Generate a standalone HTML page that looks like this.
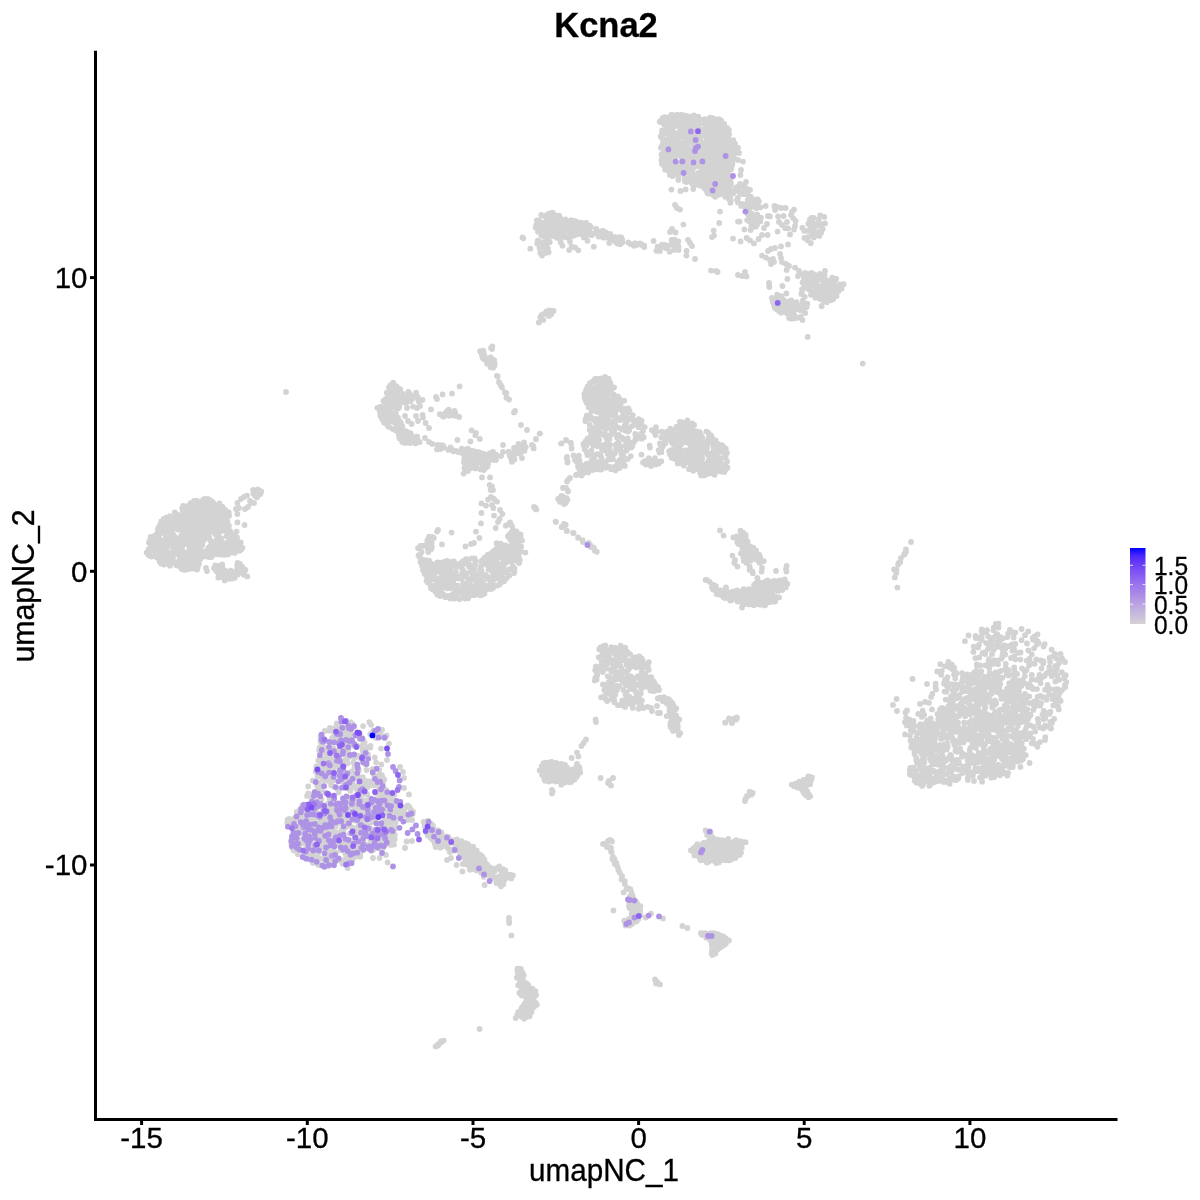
<!DOCTYPE html>
<html><head><meta charset="utf-8"><title>Kcna2</title>
<style>
html,body{margin:0;padding:0;background:#fff;}
svg{display:block;will-change:transform}
text{font-family:"Liberation Sans",Arial,Helvetica,sans-serif;fill:#000;stroke:#000;stroke-width:.3px}
.ax{font-size:29.5px}
.lg{font-size:24.5px}
</style></head><body>
<svg width="1200" height="1200" viewBox="0 0 1200 1200">
<rect width="1200" height="1200" fill="#fff"/>

<path d="M678.8,155.2h.01M700.5,148.2h.01M681.4,157.3h.01M666.5,151.7h.01M687.0,172.6h.01M662.3,136.2h.01M689.9,116.7h.01M703.2,185.4h.01M688.1,159.4h.01M682.3,118.0h.01M666.7,131.6h.01M678.3,176.3h.01M681.9,161.2h.01M681.0,162.9h.01M679.0,134.3h.01M703.9,187.7h.01M696.6,166.3h.01M672.5,130.7h.01M671.3,118.8h.01M693.2,143.4h.01M696.9,142.4h.01M702.1,176.6h.01M703.1,143.2h.01M661.4,160.4h.01M693.8,133.7h.01M662.0,138.3h.01M702.3,170.0h.01M663.4,131.9h.01M662.6,118.1h.01M694.7,126.8h.01M683.7,146.9h.01M666.8,168.1h.01M664.0,161.5h.01M663.4,144.9h.01M667.8,133.7h.01M702.7,173.4h.01M667.7,142.9h.01M697.3,161.4h.01M693.5,138.1h.01M662.1,157.0h.01M669.2,158.3h.01M675.1,147.3h.01M702.1,149.6h.01M684.4,178.1h.01M666.4,125.1h.01M699.8,174.4h.01M669.5,127.7h.01M692.0,183.6h.01M698.6,158.5h.01M677.4,121.3h.01M669.0,166.0h.01M669.8,174.9h.01M685.4,135.4h.01M700.2,128.8h.01M678.5,118.1h.01M666.1,141.0h.01M684.3,123.4h.01M703.1,162.5h.01M689.8,157.1h.01M680.2,167.9h.01M661.5,154.2h.01M691.9,180.6h.01M691.9,166.0h.01M694.5,181.7h.01M674.2,164.6h.01M699.4,178.4h.01M677.2,172.4h.01M697.7,156.2h.01M686.7,142.0h.01M684.8,158.9h.01M703.7,179.1h.01M691.5,142.5h.01M691.8,156.8h.01M680.1,130.7h.01M690.1,150.6h.01M686.3,182.1h.01M671.8,164.1h.01M699.7,162.7h.01M678.3,179.9h.01M667.1,145.7h.01M684.8,137.1h.01M664.3,150.5h.01M696.5,176.7h.01M670.7,126.2h.01M686.8,150.3h.01M672.5,176.0h.01M703.2,147.3h.01M698.2,116.7h.01M672.2,172.5h.01M678.9,115.4h.01M696.2,131.3h.01M664.5,117.1h.01M686.9,146.8h.01M687.0,162.3h.01M695.1,184.9h.01M689.5,128.4h.01M679.9,126.9h.01M690.9,126.9h.01M670.5,139.3h.01M690.1,152.3h.01M686.3,169.9h.01M699.7,120.1h.01M700.9,167.3h.01M664.0,147.3h.01M675.3,155.9h.01M698.4,172.9h.01M691.2,174.5h.01M687.5,167.0h.01M682.7,172.4h.01M697.4,139.5h.01M661.8,146.4h.01M683.3,170.8h.01M695.2,118.4h.01M664.5,124.7h.01M681.8,167.4h.01M701.7,120.0h.01M668.2,152.8h.01M671.3,167.8h.01M687.4,152.5h.01M672.3,142.0h.01M696.9,180.6h.01M702.5,152.6h.01M684.4,128.6h.01M682.7,151.0h.01M685.8,115.7h.01M689.8,118.5h.01M682.8,144.4h.01M702.0,182.3h.01M670.4,148.8h.01M679.9,137.2h.01M666.8,159.6h.01M700.6,123.2h.01M693.8,115.3h.01M689.6,137.6h.01M674.3,159.7h.01M675.3,144.4h.01M682.3,125.5h.01M699.5,137.1h.01M698.8,123.6h.01M669.0,167.7h.01M669.9,120.8h.01M696.3,145.0h.01M694.3,123.0h.01M676.5,164.6h.01M689.4,181.4h.01M702.5,122.2h.01M681.3,170.0h.01M681.1,164.6h.01M666.7,118.8h.01M666.5,128.8h.01M679.3,170.5h.01M673.0,148.3h.01M681.7,145.6h.01M690.2,176.4h.01M666.3,147.4h.01M681.6,114.7h.01M687.0,143.7h.01M692.2,171.5h.01M690.0,170.7h.01M688.3,156.0h.01M682.5,142.6h.01M669.8,143.5h.01M675.3,120.9h.01M702.5,155.9h.01M665.4,148.7h.01M686.1,118.0h.01M701.5,144.9h.01M674.8,134.9h.01M671.6,114.6h.01M669.3,116.8h.01M665.2,169.7h.01M692.4,117.3h.01M677.8,149.1h.01M702.8,131.7h.01M691.2,148.4h.01M685.8,122.2h.01M682.3,122.8h.01M678.4,163.3h.01M684.8,144.8h.01M693.8,153.1h.01M691.8,131.3h.01M694.1,160.1h.01M685.2,160.7h.01M692.7,127.7h.01M670.5,145.2h.01M662.0,163.9h.01M683.3,160.6h.01M675.2,149.2h.01M667.7,139.2h.01M692.3,176.0h.01M661.4,122.5h.01M693.4,129.5h.01M677.5,132.8h.01M695.3,141.0h.01M673.0,154.4h.01M677.7,141.1h.01M661.6,119.8h.01M684.0,149.7h.01M689.5,135.8h.01M693.7,119.3h.01M667.8,162.9h.01M671.0,124.2h.01M674.5,167.6h.01M700.3,183.5h.01M700.0,146.2h.01M694.9,136.3h.01M701.0,180.2h.01M669.4,140.5h.01M674.8,140.6h.01M676.2,142.4h.01M667.0,155.5h.01M698.5,134.5h.01M683.0,155.8h.01M687.9,131.9h.01M668.1,170.5h.01M676.1,138.7h.01M680.7,153.6h.01M696.0,163.2h.01M702.1,161.2h.01M677.3,124.5h.01M675.3,126.1h.01M660.7,136.5h.01M660.9,147.7h.01M684.9,181.3h.01M659.7,121.7h.01M685.4,130.3h.01M695.6,149.3h.01M700.1,139.1h.01M675.1,172.9h.01M690.8,158.7h.01M672.8,132.9h.01M698.0,152.0h.01M670.3,153.4h.01M696.9,174.8h.01M661.8,133.7h.01M691.0,120.8h.01M680.1,148.5h.01M697.4,136.2h.01M694.3,144.6h.01M696.0,129.1h.01M683.0,152.7h.01M672.3,136.7h.01M662.9,142.9h.01M675.3,153.8h.01M691.6,138.1h.01M696.0,120.5h.01M664.5,120.6h.01M689.2,166.3h.01M696.5,157.7h.01M662.1,130.5h.01M665.2,122.8h.01M676.7,119.0h.01M693.3,174.7h.01M677.0,114.7h.01M673.7,162.0h.01M699.5,154.4h.01M674.2,150.8h.01M664.5,166.7h.01M686.8,128.3h.01M684.5,165.5h.01M683.8,133.3h.01M669.1,156.3h.01M696.2,127.4h.01M703.4,183.5h.01M688.9,168.5h.01M675.6,157.6h.01M664.6,142.3h.01M684.2,126.5h.01M681.9,133.2h.01M687.5,116.4h.01M688.9,124.4h.01M702.1,158.2h.01M679.6,144.2h.01M686.7,164.9h.01M692.9,169.5h.01M676.8,145.9h.01M672.8,117.7h.01M692.6,136.3h.01M682.2,131.4h.01M668.9,118.7h.01M699.9,185.5h.01M688.6,178.1h.01M663.7,153.6h.01M669.2,135.9h.01M672.2,150.7h.01M719.1,133.4h.01M713.5,191.7h.01M730.8,145.4h.01M719.1,130.6h.01M710.5,168.1h.01M710.1,188.2h.01M705.6,125.2h.01M727.2,142.1h.01M726.8,127.6h.01M718.2,123.0h.01M711.1,141.6h.01M726.7,132.6h.01M709.8,135.8h.01M725.3,180.9h.01M715.9,170.5h.01M732.3,164.6h.01M712.9,168.7h.01M718.1,159.6h.01M721.0,120.3h.01M723.2,139.8h.01M712.0,182.0h.01M706.8,139.8h.01M728.2,136.6h.01M712.9,161.2h.01M718.8,177.7h.01M716.3,192.2h.01M721.8,169.1h.01M729.1,158.7h.01M720.2,185.4h.01M725.9,159.0h.01M728.9,130.0h.01M723.5,135.8h.01M718.1,179.5h.01M729.2,181.0h.01M711.6,156.4h.01M711.1,163.8h.01M723.1,174.8h.01M722.3,187.7h.01M709.8,129.0h.01M704.6,157.0h.01M717.9,152.6h.01M706.3,190.5h.01M722.2,160.8h.01M708.7,141.9h.01M705.4,142.2h.01M723.9,159.4h.01M706.8,183.4h.01M709.5,137.3h.01M709.1,172.8h.01M706.0,150.0h.01M715.7,134.2h.01M705.3,136.2h.01M716.6,140.9h.01M728.4,176.4h.01M711.4,137.2h.01M721.7,136.3h.01M718.8,192.5h.01M715.6,144.0h.01M715.0,173.1h.01M732.4,154.3h.01M716.6,185.2h.01M716.2,180.2h.01M710.9,144.9h.01M709.9,161.3h.01M709.2,133.2h.01M710.9,154.7h.01M713.9,153.0h.01M716.3,122.5h.01M726.1,146.1h.01M712.8,118.1h.01M726.9,138.5h.01M715.6,129.1h.01M734.0,145.9h.01M714.3,147.9h.01M706.7,188.4h.01M714.4,179.3h.01M716.6,136.0h.01M705.3,128.9h.01M714.0,151.1h.01M721.4,127.7h.01M727.2,170.8h.01M713.0,174.6h.01M717.0,148.1h.01M713.3,144.7h.01M710.9,119.9h.01M704.8,167.9h.01M722.1,182.4h.01M725.5,191.4h.01M710.9,172.7h.01M724.2,123.9h.01M705.9,147.8h.01M714.5,157.1h.01M713.0,129.5h.01M716.9,155.3h.01M709.3,170.7h.01M711.7,124.2h.01M708.8,164.0h.01M726.4,161.6h.01M716.5,146.3h.01M722.7,154.8h.01M714.4,137.2h.01M704.8,144.9h.01M732.5,162.6h.01M712.4,171.0h.01M715.6,163.5h.01M724.1,167.1h.01M717.2,150.4h.01M712.8,184.1h.01M732.2,147.7h.01M708.3,157.9h.01M725.8,135.7h.01M704.0,160.9h.01M719.8,169.5h.01M721.5,167.4h.01M721.9,184.3h.01M735.0,143.7h.01M715.1,188.7h.01M726.3,172.5h.01M709.1,167.2h.01M719.7,162.5h.01M728.0,160.1h.01M714.4,131.1h.01M706.0,122.2h.01M707.3,174.0h.01M707.6,153.4h.01M728.7,155.7h.01M729.5,148.5h.01M731.0,184.0h.01M722.2,150.8h.01M726.6,167.3h.01M730.6,181.8h.01M708.0,147.3h.01M709.9,117.7h.01M722.7,193.2h.01M726.0,150.7h.01M724.2,148.9h.01M705.6,174.7h.01M707.8,120.1h.01M714.6,118.8h.01M721.4,155.9h.01M723.8,178.9h.01M735.4,148.3h.01M709.6,125.3h.01M719.6,126.4h.01M732.6,141.8h.01M706.5,131.5h.01M719.5,150.3h.01M705.8,161.4h.01M718.2,184.5h.01M727.2,130.9h.01M707.8,122.7h.01M715.5,177.9h.01M704.3,133.7h.01M716.8,182.0h.01M730.5,179.1h.01M725.0,182.6h.01M715.7,168.5h.01M715.3,139.3h.01M707.0,143.9h.01M707.4,128.2h.01M716.9,142.8h.01M721.2,194.1h.01M717.8,195.0h.01M711.0,149.8h.01M724.6,133.9h.01M723.7,188.9h.01M731.4,167.8h.01M707.7,184.8h.01M726.1,153.5h.01M723.2,163.2h.01M724.1,153.0h.01M723.0,165.0h.01M716.9,187.2h.01M719.7,135.7h.01M730.9,169.4h.01M721.6,190.3h.01M715.7,124.8h.01M714.9,142.3h.01M723.3,173.2h.01M709.8,127.0h.01M708.1,126.0h.01M715.4,132.6h.01M713.1,187.6h.01M727.8,165.5h.01M717.4,139.5h.01M717.2,127.4h.01M717.5,144.4h.01M730.3,185.8h.01M706.8,146.2h.01M716.0,175.5h.01M725.4,144.6h.01M719.0,146.0h.01M718.9,142.3h.01M725.5,165.9h.01M706.1,154.2h.01M710.7,146.7h.01M723.9,177.0h.01M727.4,179.8h.01M704.5,186.6h.01M707.6,180.8h.01M720.4,140.5h.01M717.2,121.0h.01M717.0,166.4h.01M708.9,183.2h.01M727.5,174.6h.01M709.0,159.8h.01M713.6,195.2h.01M724.6,185.6h.01M706.5,137.8h.01M715.8,151.5h.01M705.6,184.6h.01M706.0,159.6h.01M721.5,149.1h.01M704.3,149.7h.01M715.7,165.3h.01M720.5,178.0h.01M729.5,151.2h.01M731.5,149.3h.01M730.6,143.3h.01M729.2,168.9h.01M705.8,178.8h.01M728.0,147.4h.01M719.1,119.2h.01M719.8,172.7h.01M707.4,177.0h.01M709.2,145.1h.01M713.8,185.6h.01M729.1,134.4h.01M723.5,126.4h.01M728.5,164.0h.01M708.2,156.1h.01M712.7,139.8h.01M712.9,158.0h.01M734.2,157.8h.01M722.1,145.0h.01M711.4,193.9h.01M707.5,193.2h.01M704.9,163.1h.01M720.7,122.9h.01M720.9,131.6h.01M704.8,119.2h.01M720.6,163.8h.01M728.2,182.4h.01M704.0,122.1h.01M720.8,143.9h.01M711.8,134.3h.01M719.2,183.2h.01M734.4,153.5h.01M715.1,120.6h.01M718.7,165.7h.01M709.5,176.5h.01M723.8,146.7h.01M719.1,167.4h.01M722.7,129.4h.01M720.5,147.4h.01M712.6,163.3h.01M706.9,157.1h.01M712.1,190.1h.01M719.7,155.9h.01M730.1,141.3h.01M723.5,190.8h.01M706.1,170.9h.01M729.1,187.7h.01M724.5,156.6h.01M733.2,140.2h.01M711.7,143.3h.01M715.4,159.5h.01M717.9,172.4h.01M728.4,161.8h.01M724.5,193.0h.01M717.8,125.3h.01M708.1,151.2h.01M722.3,177.2h.01M725.0,171.0h.01M717.9,169.8h.01M711.2,179.3h.01M710.3,190.9h.01M729.0,143.0h.01M712.0,131.1h.01M726.6,134.2h.01M711.3,175.1h.01M715.3,196.8h.01M714.3,154.7h.01M713.9,164.8h.01M712.6,125.8h.01M726.2,157.3h.01M729.5,167.1h.01M727.8,153.6h.01M716.7,161.6h.01M731.6,158.7h.01M710.9,153.0h.01M721.9,124.8h.01M724.4,137.9h.01M730.1,175.5h.01M705.1,181.5h.01M671.4,189.6h.01M680.4,191.0h.01M685.6,189.4h.01M693.2,189.0h.01M708.4,193.6h.01M675.0,205.0h.01M677.0,208.0h.01M680.0,209.6h.01M683.4,224.6h.01M672.0,229.0h.01M670.0,232.0h.01M675.6,232.4h.01M720.0,211.6h.01M719.2,223.0h.01M713.6,230.6h.01M712.0,237.0h.01M714.0,235.6h.01M738.0,221.6h.01M739.6,221.6h.01M744.4,229.4h.01M750.6,230.0h.01M733.0,238.6h.01M740.6,241.4h.01M746.6,238.0h.01M750.0,240.4h.01M754.0,243.4h.01M758.6,239.0h.01M762.0,235.0h.01M767.6,235.0h.01M765.6,206.0h.01M768.0,216.0h.01M770.0,216.4h.01M767.0,224.0h.01M764.0,228.0h.01M774.4,206.0h.01M777.0,207.0h.01M781.0,208.0h.01M785.6,208.0h.01M775.0,210.0h.01M778.0,216.4h.01M783.6,216.0h.01M779.0,222.0h.01M782.0,225.0h.01M785.0,228.0h.01M788.0,228.4h.01M787.0,222.0h.01M792.0,212.0h.01M794.0,209.6h.01M791.0,215.0h.01M793.0,218.0h.01M795.6,221.0h.01M795.0,226.0h.01M794.0,229.6h.01M790.0,234.4h.01M777.6,231.6h.01M688.0,240.0h.01M690.0,243.0h.01M692.0,246.0h.01M686.6,251.0h.01M686.4,255.6h.01M695.0,259.0h.01M653.6,241.0h.01M711.0,270.6h.01M716.0,271.0h.01M717.6,272.0h.01M738.0,275.0h.01M742.0,276.0h.01M745.0,272.0h.01M746.6,276.4h.01M788.0,244.4h.01M781.0,246.4h.01M775.0,248.0h.01M771.0,249.0h.01M768.0,251.0h.01M762.0,255.6h.01M766.0,257.6h.01M770.0,260.0h.01M773.0,259.0h.01M774.0,262.0h.01M771.0,264.0h.01M780.0,254.0h.01M781.0,258.0h.01M782.0,262.0h.01M786.0,264.0h.01M789.0,266.0h.01M786.6,270.0h.01M795.0,267.6h.01M799.0,271.0h.01M800.0,274.0h.01M798.0,276.0h.01M805.0,273.0h.01M806.0,275.0h.01M825.0,271.0h.01M821.6,306.0h.01M769.0,283.0h.01M769.4,287.0h.01M782.4,286.0h.01M787.4,279.0h.01M786.4,293.6h.01M802.0,294.0h.01M803.0,289.0h.01M738.0,148.0h.01M739.0,153.0h.01M738.0,160.0h.01M743.0,161.6h.01M741.0,170.0h.01M740.4,175.0h.01M746.0,182.0h.01M740.0,184.0h.01M745.0,189.0h.01M750.0,190.0h.01M728.5,189.2h.01M735.5,190.7h.01M747.8,200.0h.01M745.0,194.0h.01M732.4,191.3h.01M758.8,201.5h.01M755.9,202.2h.01M747.5,194.0h.01M751.0,196.8h.01M725.3,196.8h.01M738.0,197.8h.01M735.9,187.9h.01M746.1,207.8h.01M730.0,197.0h.01M742.5,203.9h.01M745.0,190.2h.01M730.4,202.8h.01M741.2,205.9h.01M747.2,203.4h.01M752.7,202.8h.01M756.0,199.6h.01M727.4,191.5h.01M730.8,200.6h.01M728.8,198.8h.01M742.8,194.1h.01M741.5,185.0h.01M747.0,189.0h.01M757.6,199.3h.01M738.0,202.4h.01M734.1,191.6h.01M752.3,204.4h.01M750.3,208.0h.01M730.2,194.2h.01M756.3,203.9h.01M751.9,206.5h.01M737.1,199.7h.01M760.4,207.3h.01M728.6,194.5h.01M745.0,187.4h.01M747.5,191.3h.01M733.2,193.5h.01M756.4,208.3h.01M739.4,192.3h.01M739.1,188.8h.01M751.5,198.9h.01M744.4,206.3h.01M737.5,186.9h.01M746.5,205.4h.01M752.2,214.0h.01M757.1,224.4h.01M760.3,221.4h.01M755.7,226.7h.01M751.3,225.2h.01M756.5,220.0h.01M747.2,220.1h.01M751.0,222.2h.01M754.6,220.7h.01M747.9,214.2h.01M751.4,219.7h.01M754.3,218.8h.01M757.2,214.6h.01M749.2,219.2h.01M753.7,217.0h.01M752.5,227.1h.01M761.0,217.7h.01M748.6,212.6h.01M749.1,221.3h.01M808.2,230.7h.01M809.9,219.4h.01M810.4,226.8h.01M819.4,235.9h.01M813.6,217.9h.01M822.7,229.1h.01M818.1,225.2h.01M816.9,232.6h.01M821.2,232.4h.01M812.2,233.6h.01M810.8,224.8h.01M808.3,223.7h.01M804.5,238.0h.01M825.0,223.4h.01M811.5,217.9h.01M824.3,216.9h.01M808.4,236.9h.01M807.6,240.4h.01M810.8,228.4h.01M812.6,222.6h.01M820.2,215.3h.01M802.4,227.8h.01M817.0,223.9h.01M810.8,243.2h.01M804.3,230.9h.01M813.8,237.4h.01M818.7,219.1h.01M815.3,226.6h.01M814.9,235.5h.01M819.2,231.3h.01M813.0,228.2h.01M821.5,224.2h.01M676.0,249.6h.01M656.4,250.8h.01M674.0,246.7h.01M671.3,244.2h.01M671.6,239.9h.01M667.9,246.5h.01M675.7,243.7h.01M658.1,250.0h.01M673.7,249.9h.01M678.4,241.3h.01M660.0,251.0h.01M677.7,245.0h.01M660.3,247.5h.01M665.4,244.8h.01M665.8,248.0h.01M672.5,243.0h.01M678.5,250.1h.01M657.6,246.7h.01M674.6,239.6h.01M661.9,244.7h.01M674.6,242.1h.01M669.6,251.8h.01M675.8,247.9h.01M678.5,246.7h.01M633.9,245.8h.01M635.4,243.4h.01M636.6,244.9h.01M640.8,243.9h.01M642.6,245.0h.01M644.3,245.7h.01M830.6,286.5h.01M824.6,290.1h.01M824.3,297.5h.01M833.9,291.3h.01M827.4,300.2h.01M804.1,286.9h.01M809.0,289.6h.01M822.7,294.9h.01M833.1,299.3h.01M835.0,280.8h.01M841.6,288.6h.01M816.3,275.6h.01M807.3,286.0h.01M813.6,293.0h.01M806.7,282.6h.01M819.4,286.9h.01M820.5,290.6h.01M811.7,279.9h.01M821.5,292.1h.01M827.7,283.1h.01M810.9,294.8h.01M813.2,275.5h.01M832.4,286.9h.01M833.7,295.9h.01M823.6,280.7h.01M824.3,292.7h.01M815.8,292.0h.01M822.7,299.7h.01M830.6,292.8h.01M831.4,283.6h.01M836.0,286.5h.01M810.7,286.2h.01M830.9,289.2h.01M818.9,279.9h.01M819.6,293.7h.01M827.8,294.8h.01M830.9,300.3h.01M830.3,291.0h.01M828.0,291.9h.01M838.6,291.1h.01M840.0,284.5h.01M802.5,282.4h.01M815.0,284.5h.01M819.9,296.9h.01M810.3,288.6h.01M811.6,272.8h.01M814.4,287.3h.01M816.8,281.1h.01M836.6,296.0h.01M804.3,276.4h.01M843.6,284.2h.01M832.4,288.5h.01M824.3,300.7h.01M832.6,293.9h.01M816.0,296.0h.01M826.5,285.1h.01M817.6,278.2h.01M808.9,273.9h.01M822.9,285.3h.01M815.3,297.7h.01M824.6,275.5h.01M831.8,279.5h.01M831.1,297.9h.01M804.8,281.4h.01M812.3,284.4h.01M813.9,289.3h.01M819.7,273.9h.01M827.7,287.0h.01M807.8,276.5h.01M808.1,287.4h.01M836.2,279.0h.01M834.4,286.9h.01M820.3,298.9h.01M813.5,291.3h.01M805.4,285.2h.01M838.2,286.4h.01M835.5,289.8h.01M819.3,276.8h.01M821.4,274.3h.01M807.1,274.8h.01M838.8,289.3h.01M808.8,280.9h.01M804.0,278.5h.01M813.0,273.8h.01M814.3,295.6h.01M826.7,280.3h.01M829.4,281.9h.01M828.4,290.2h.01M829.2,298.8h.01M825.2,288.2h.01M805.6,279.4h.01M813.8,278.6h.01M824.2,277.7h.01M826.8,302.2h.01M817.8,285.6h.01M818.3,275.1h.01M832.2,277.6h.01M805.1,306.1h.01M794.7,306.5h.01M776.3,303.3h.01M788.2,309.3h.01M800.6,310.6h.01M791.2,318.7h.01M788.9,301.3h.01M776.2,299.6h.01M786.9,305.3h.01M800.8,316.8h.01M791.1,302.7h.01M786.9,313.2h.01M792.3,308.4h.01M791.2,309.5h.01M789.1,318.0h.01M782.2,307.4h.01M803.0,310.4h.01M805.2,312.9h.01M779.3,303.8h.01M777.7,307.4h.01M779.3,298.3h.01M789.5,313.3h.01M792.7,315.2h.01M777.6,300.6h.01M799.7,306.1h.01M797.2,317.8h.01M775.0,307.9h.01M777.1,309.5h.01M796.6,302.2h.01M793.1,305.6h.01M796.4,305.4h.01M779.8,301.6h.01M806.7,307.1h.01M778.6,296.5h.01M807.3,303.7h.01M777.1,294.7h.01M794.6,309.6h.01M802.6,308.6h.01M796.7,309.2h.01M782.3,302.1h.01M794.5,315.3h.01M802.1,305.2h.01M772.6,301.6h.01M773.7,304.0h.01M781.2,312.7h.01M781.3,309.2h.01M794.3,318.3h.01M791.3,300.3h.01M788.2,306.7h.01M783.6,310.1h.01M790.3,314.8h.01M793.5,312.4h.01M784.9,304.0h.01M802.5,320.1h.01M784.1,302.5h.01M786.3,307.2h.01M779.1,311.2h.01M783.5,300.0h.01M771.9,298.0h.01M781.8,298.1h.01M781.1,296.1h.01M800.4,307.9h.01M774.1,305.6h.01M807.7,336.9h.01M862.7,363.6h.01M769.1,284.0h.01M769.1,286.7h.01M782.4,286.0h.01M786.3,293.3h.01M821.7,306.3h.01M802.0,289.3h.01M801.3,294.0h.01M804.7,296.7h.01M802.7,300.7h.01M587.8,228.6h.01M549.5,234.3h.01M573.7,235.6h.01M537.9,222.3h.01M576.9,222.0h.01M560.1,225.7h.01M573.1,233.2h.01M570.6,234.7h.01M564.8,234.8h.01M552.7,229.1h.01M572.3,230.3h.01M539.1,220.5h.01M568.7,225.8h.01M583.8,237.4h.01M579.7,226.4h.01M550.1,219.0h.01M608.2,234.6h.01M550.4,229.7h.01M558.0,218.6h.01M549.1,213.6h.01M591.7,235.2h.01M571.9,227.9h.01M600.9,232.9h.01M589.6,234.1h.01M540.9,224.8h.01M537.6,226.4h.01M610.2,233.9h.01M554.7,215.0h.01M549.5,223.2h.01M620.7,243.5h.01M600.2,234.6h.01M575.3,227.6h.01M553.4,221.6h.01M566.5,237.5h.01M583.4,223.2h.01M559.2,228.1h.01M552.4,212.7h.01M588.1,230.9h.01M540.4,231.5h.01M580.8,222.7h.01M554.1,217.5h.01M577.3,224.8h.01M586.4,235.4h.01M558.8,233.1h.01M557.2,237.9h.01M552.4,232.7h.01M622.1,239.5h.01M566.2,221.4h.01M549.9,215.4h.01M616.3,240.0h.01M576.4,234.5h.01M541.2,214.9h.01M618.2,243.8h.01M603.9,234.0h.01M546.9,215.0h.01M572.7,222.1h.01M586.3,225.9h.01M540.9,226.8h.01M546.5,229.7h.01M586.2,222.9h.01M582.9,234.2h.01M546.9,219.7h.01M611.6,240.0h.01M561.8,232.9h.01M535.7,227.6h.01M616.6,242.7h.01M549.6,226.6h.01M556.6,229.3h.01M606.3,232.8h.01M615.2,237.2h.01M583.2,230.6h.01M562.0,236.8h.01M542.4,233.4h.01M579.2,229.6h.01M622.4,242.3h.01M554.3,228.9h.01M613.5,237.1h.01M560.4,222.7h.01M619.4,237.2h.01M559.1,215.6h.01M549.6,221.1h.01M603.2,237.6h.01M564.8,229.1h.01M551.0,228.0h.01M604.5,231.6h.01M542.2,223.0h.01M571.1,223.7h.01M545.5,233.4h.01M587.5,233.3h.01M546.4,227.3h.01M554.2,236.3h.01M558.1,230.1h.01M565.4,219.4h.01M553.1,218.8h.01M576.2,232.2h.01M556.9,226.3h.01M574.7,220.9h.01M564.2,227.0h.01M552.9,223.2h.01M544.2,227.3h.01M538.5,231.0h.01M605.1,237.7h.01M603.0,230.8h.01M577.7,230.3h.01M620.5,240.4h.01M545.4,225.2h.01M584.7,225.5h.01M598.6,236.6h.01M551.5,226.2h.01M615.3,241.6h.01M621.2,237.5h.01M570.5,229.0h.01M590.7,227.0h.01M595.5,233.3h.01M560.6,238.4h.01M542.7,231.3h.01M612.8,238.8h.01M554.8,234.0h.01M552.5,215.6h.01M596.2,228.9h.01M589.7,225.6h.01M558.7,222.2h.01M544.5,216.3h.01M547.4,234.6h.01M617.5,238.3h.01M562.7,222.6h.01M610.0,238.3h.01M548.8,217.5h.01M592.8,233.7h.01M596.7,231.1h.01M570.9,220.2h.01M536.2,225.2h.01M602.5,234.9h.01M540.4,228.4h.01M551.4,216.9h.01M578.9,234.1h.01M550.0,231.8h.01M538.5,229.3h.01M556.5,232.3h.01M589.3,229.7h.01M575.6,223.3h.01M573.5,224.9h.01M601.0,231.3h.01M560.1,217.9h.01M568.7,236.8h.01M560.7,220.9h.01M578.0,228.3h.01M556.6,234.0h.01M566.5,224.0h.01M543.6,236.2h.01M536.8,220.3h.01M566.5,230.4h.01M568.2,222.7h.01M585.6,232.0h.01M544.7,222.6h.01M571.3,226.4h.01M561.1,231.0h.01M571.0,236.6h.01M578.7,222.6h.01M583.2,227.1h.01M555.4,223.4h.01M543.3,246.8h.01M540.4,241.9h.01M546.2,248.7h.01M541.3,235.4h.01M537.7,240.6h.01M548.7,252.3h.01M542.0,255.6h.01M549.7,242.2h.01M547.9,248.4h.01M539.5,248.1h.01M540.3,253.0h.01M547.2,238.1h.01M545.5,246.8h.01M544.7,242.0h.01M544.9,245.0h.01M546.3,241.6h.01M537.2,243.5h.01M547.9,241.1h.01M547.1,243.4h.01M545.3,250.1h.01M543.0,244.5h.01M545.1,253.1h.01M549.1,237.5h.01M522.5,237.5h.01M523.3,238.3h.01M530.3,248.7h.01M538.0,231.7h.01M562.5,245.8h.01M560.8,242.5h.01M570.0,241.7h.01M571.7,246.7h.01M575.0,247.5h.01M578.3,250.3h.01M569.2,250.0h.01M593.8,246.7h.01M587.5,240.8h.01M609.2,243.0h.01M620.0,244.2h.01M628.3,242.5h.01M630.8,244.2h.01M635.0,243.3h.01M640.0,243.3h.01M641.7,245.0h.01M644.2,247.0h.01M538.9,322.4h.01M551.3,310.8h.01M540.8,320.1h.01M546.5,311.4h.01M541.8,318.8h.01M548.7,314.0h.01M551.2,314.2h.01M540.2,317.1h.01M549.3,310.5h.01M548.9,315.9h.01M546.9,313.2h.01M541.5,315.2h.01M543.3,319.9h.01M543.3,314.2h.01M553.5,311.0h.01M548.2,312.0h.01M487.8,358.3h.01M483.6,352.4h.01M484.3,356.2h.01M493.1,367.7h.01M491.4,364.8h.01M482.4,356.3h.01M484.0,354.6h.01M490.8,357.5h.01M487.1,363.7h.01M484.1,359.3h.01M488.0,360.1h.01M494.8,363.8h.01M480.1,351.2h.01M494.2,360.2h.01M482.7,357.9h.01M494.4,365.7h.01M492.1,362.7h.01M481.8,354.8h.01M490.4,367.1h.01M489.2,363.5h.01M483.2,350.6h.01M491.0,348.0h.01M492.4,346.4h.01M492.0,349.0h.01M496.9,375.8h.01M497.6,376.5h.01M499.0,382.2h.01M500.8,385.2h.01M502.0,387.4h.01M504.8,392.4h.01M506.4,393.2h.01M506.4,397.7h.01M509.1,399.6h.01M515.0,411.0h.01M514.0,412.4h.01M521.0,425.0h.01M527.0,430.0h.01M539.6,433.6h.01M536.0,439.2h.01M532.0,445.0h.01M533.6,448.0h.01M400.2,389.2h.01M406.1,433.6h.01M406.1,403.2h.01M398.0,428.9h.01M392.1,420.7h.01M407.7,398.1h.01M410.1,435.2h.01M396.4,416.6h.01M404.9,396.7h.01M399.3,421.1h.01M383.7,407.4h.01M397.7,424.1h.01M384.1,422.6h.01M380.3,413.9h.01M388.2,398.6h.01M405.0,398.3h.01M400.5,424.9h.01M381.3,408.5h.01M385.4,402.5h.01M394.5,414.5h.01M395.5,399.8h.01M390.8,399.9h.01M383.5,400.9h.01M397.1,392.1h.01M385.8,422.9h.01M390.1,404.6h.01M395.8,394.2h.01M392.2,403.0h.01M383.5,410.1h.01M398.2,400.9h.01M395.5,418.2h.01M392.2,406.7h.01M400.7,422.3h.01M393.0,392.2h.01M403.7,401.8h.01M391.9,387.3h.01M400.5,434.0h.01M396.9,390.5h.01M386.8,392.7h.01M388.6,415.3h.01M389.0,411.6h.01M396.3,425.4h.01M394.7,387.8h.01M385.0,419.5h.01M398.0,398.8h.01M397.3,426.9h.01M391.9,413.1h.01M389.8,413.5h.01M381.4,411.1h.01M399.5,438.4h.01M414.4,437.3h.01M393.0,384.9h.01M417.6,439.3h.01M392.4,414.9h.01M392.4,401.0h.01M408.2,432.3h.01M398.8,435.5h.01M386.8,400.2h.01M388.2,395.4h.01M408.7,440.1h.01M380.4,415.7h.01M400.4,428.1h.01M393.4,422.0h.01M401.0,396.9h.01M377.4,407.8h.01M395.0,385.6h.01M407.1,442.7h.01M405.4,436.8h.01M400.2,431.3h.01M407.7,437.1h.01M398.9,425.7h.01M379.8,410.8h.01M382.1,417.4h.01M389.1,426.9h.01M386.5,410.9h.01M382.1,419.1h.01M404.5,432.8h.01M390.1,391.9h.01M411.8,440.7h.01M399.5,395.9h.01M393.2,382.6h.01M389.0,387.4h.01M401.1,402.6h.01M383.7,412.4h.01M387.7,425.8h.01M402.1,425.8h.01M395.8,408.2h.01M385.7,398.8h.01M405.7,400.4h.01M411.9,438.7h.01M410.8,433.3h.01M393.8,407.0h.01M399.3,406.9h.01M404.7,442.9h.01M417.2,436.6h.01M410.1,443.1h.01M389.4,421.2h.01M392.9,429.1h.01M398.1,430.8h.01M390.5,385.1h.01M395.9,421.0h.01M396.7,403.0h.01M419.7,442.1h.01M402.7,393.9h.01M380.6,406.6h.01M387.6,404.1h.01M395.9,413.3h.01M392.5,417.5h.01M410.6,401.0h.01M383.1,415.3h.01M390.0,419.3h.01M385.6,408.9h.01M403.1,436.4h.01M389.6,410.1h.01M398.0,417.7h.01M402.3,427.7h.01M392.1,398.7h.01M396.6,386.4h.01M415.5,443.4h.01M392.2,390.6h.01M385.6,405.7h.01M397.9,408.4h.01M395.9,430.5h.01M388.0,413.4h.01M387.4,408.4h.01M393.0,397.1h.01M405.6,431.1h.01M404.6,441.2h.01M402.2,441.9h.01M408.7,396.4h.01M409.5,393.7h.01M418.6,401.2h.01M415.0,395.4h.01M417.7,396.9h.01M422.5,400.0h.01M416.1,392.6h.01M411.8,397.1h.01M408.3,391.8h.01M413.1,398.2h.01M436.0,397.0h.01M437.0,399.0h.01M442.6,394.4h.01M452.0,393.6h.01M459.6,386.4h.01M413.0,406.6h.01M417.0,408.0h.01M420.0,406.0h.01M407.0,408.0h.01M405.0,416.0h.01M408.0,421.0h.01M411.6,424.0h.01M416.0,416.0h.01M418.0,421.0h.01M422.6,415.0h.01M423.0,417.6h.01M431.0,409.4h.01M425.6,423.0h.01M429.0,428.0h.01M425.0,438.0h.01M429.0,442.0h.01M432.4,444.0h.01M455.3,412.9h.01M449.1,415.8h.01M445.0,415.1h.01M439.9,414.2h.01M450.1,411.6h.01M455.5,415.8h.01M442.2,415.5h.01M447.7,413.0h.01M459.2,417.0h.01M445.1,413.3h.01M451.5,415.0h.01M443.5,416.7h.01M454.5,411.0h.01M447.0,411.2h.01M446.9,414.7h.01M448.7,409.7h.01M443.0,445.4h.01M444.0,447.5h.01M440.6,449.0h.01M452.6,449.8h.01M439.0,447.2h.01M448.3,449.9h.01M450.5,447.4h.01M440.3,445.2h.01M453.4,451.3h.01M437.6,445.0h.01M437.0,449.4h.01M457.4,440.0h.01M470.4,441.4h.01M471.5,430.3h.01M476.0,432.8h.01M475.3,435.2h.01M479.8,438.9h.01M473.9,459.3h.01M470.8,465.6h.01M476.3,467.1h.01M481.2,455.3h.01M473.7,454.3h.01M467.7,456.4h.01M480.9,462.8h.01M474.7,462.8h.01M469.9,452.8h.01M480.6,469.4h.01M481.4,453.5h.01M479.5,452.4h.01M471.8,456.7h.01M493.4,459.8h.01M473.7,451.2h.01M491.9,453.7h.01M464.0,462.3h.01M480.8,459.7h.01M485.9,467.6h.01M483.7,453.6h.01M466.1,462.4h.01M463.9,454.4h.01M482.0,461.0h.01M458.6,452.3h.01M477.3,451.9h.01M493.1,455.9h.01M483.9,468.1h.01M489.4,455.4h.01M482.5,458.5h.01M475.4,457.9h.01M486.5,457.4h.01M488.0,464.2h.01M477.7,453.6h.01M469.5,457.8h.01M463.7,450.8h.01M461.8,448.6h.01M463.5,473.6h.01M492.9,451.9h.01M456.2,450.9h.01M479.9,457.7h.01M473.7,465.2h.01M473.6,467.3h.01M467.8,448.7h.01M475.9,465.4h.01M464.8,458.1h.01M487.4,466.4h.01M489.8,453.2h.01M471.6,452.3h.01M486.9,460.3h.01M488.5,461.4h.01M465.8,449.5h.01M483.9,470.0h.01M467.0,453.3h.01M487.8,454.7h.01M466.9,458.9h.01M460.9,451.8h.01M467.9,471.0h.01M469.4,468.0h.01M482.1,464.2h.01M483.9,461.2h.01M476.4,454.5h.01M464.4,468.2h.01M464.1,460.0h.01M470.7,455.4h.01M471.0,450.6h.01M467.6,465.5h.01M462.2,453.1h.01M471.6,464.2h.01M478.1,457.8h.01M495.8,454.5h.01M495.8,457.9h.01M490.8,456.2h.01M471.3,468.1h.01M483.3,465.4h.01M470.9,459.0h.01M475.4,468.4h.01M486.2,464.2h.01M473.9,461.0h.01M467.0,469.5h.01M474.1,456.4h.01M482.1,468.7h.01M465.1,465.5h.01M465.9,455.0h.01M477.5,459.3h.01M503.0,445.0h.01M503.0,452.0h.01M501.0,456.0h.01M496.0,460.0h.01M522.0,458.0h.01M514.4,454.4h.01M511.6,459.0h.01M524.0,442.4h.01M521.2,449.6h.01M511.9,461.8h.01M524.3,445.7h.01M510.2,453.2h.01M514.0,448.0h.01M508.7,451.7h.01M518.5,443.8h.01M521.2,452.3h.01M524.5,450.7h.01M515.5,451.0h.01M509.6,454.9h.01M523.5,448.6h.01M521.2,445.2h.01M517.7,453.0h.01M517.5,446.8h.01M513.8,456.6h.01M514.4,459.4h.01M512.0,453.1h.01M519.6,453.5h.01M515.7,452.6h.01M512.0,457.1h.01M525.8,447.1h.01M510.3,456.9h.01M561.0,443.6h.01M566.0,440.0h.01M571.0,443.6h.01M571.6,448.6h.01M567.0,457.0h.01M567.6,461.6h.01M574.0,456.0h.01M576.0,461.0h.01M578.0,466.0h.01M576.0,475.0h.01M570.0,478.0h.01M567.0,481.6h.01M563.0,488.0h.01M568.0,491.0h.01M535.6,508.0h.01M534.0,507.0h.01M556.0,522.0h.01M564.0,524.0h.01M562.0,502.2h.01M562.1,500.0h.01M565.6,502.9h.01M562.8,496.4h.01M566.5,498.1h.01M561.3,495.8h.01M560.3,498.3h.01M560.4,501.5h.01M558.5,499.5h.01M614.3,406.2h.01M585.6,400.2h.01M605.7,402.2h.01M600.6,393.8h.01M601.2,406.2h.01M587.7,386.5h.01M602.3,392.4h.01M606.6,391.5h.01M594.7,392.8h.01M602.8,407.5h.01M602.1,404.8h.01M593.3,388.7h.01M604.3,405.9h.01M612.9,400.2h.01M610.3,410.8h.01M592.4,392.0h.01M614.1,387.5h.01M606.1,382.4h.01M603.3,394.2h.01M598.4,395.0h.01M602.9,379.3h.01M597.3,409.6h.01M612.2,402.6h.01M605.3,385.3h.01M593.5,394.4h.01M586.6,402.8h.01M600.0,384.4h.01M610.3,407.9h.01M605.6,414.1h.01M606.4,404.1h.01M620.6,404.4h.01M606.0,406.9h.01M598.3,392.9h.01M611.0,393.4h.01M609.6,409.3h.01M605.0,376.9h.01M616.0,400.5h.01M594.0,398.5h.01M598.5,380.9h.01M616.0,398.7h.01M594.3,380.5h.01M586.3,397.1h.01M589.8,383.2h.01M613.6,415.5h.01M607.4,400.4h.01M590.6,392.8h.01M598.0,385.4h.01M592.3,381.7h.01M611.1,389.3h.01M584.6,397.4h.01M588.7,407.2h.01M603.9,399.3h.01M591.6,411.2h.01M591.7,405.1h.01M588.5,394.4h.01M592.4,396.3h.01M585.9,390.7h.01M619.3,399.6h.01M597.4,397.4h.01M606.7,409.9h.01M595.5,396.2h.01M596.2,382.9h.01M609.8,405.5h.01M599.1,408.8h.01M607.9,408.7h.01M615.4,409.3h.01M591.2,397.7h.01M612.8,398.6h.01M587.7,398.9h.01M617.6,409.5h.01M602.2,396.5h.01M588.1,397.3h.01M610.4,382.8h.01M603.0,387.2h.01M597.4,388.8h.01M613.5,413.4h.01M587.6,400.6h.01M615.7,402.5h.01M598.3,406.6h.01M606.8,389.3h.01M592.3,407.3h.01M602.2,398.5h.01M601.3,409.5h.01M603.9,384.4h.01M593.8,404.0h.01M602.3,385.5h.01M600.9,414.0h.01M595.1,378.9h.01M618.7,402.8h.01M606.7,393.8h.01M593.0,402.2h.01M595.4,407.8h.01M600.4,378.3h.01M600.6,387.0h.01M603.6,410.7h.01M586.1,395.2h.01M599.4,404.9h.01M603.8,414.4h.01M613.7,394.5h.01M612.8,411.6h.01M610.3,400.6h.01M590.1,405.0h.01M589.8,388.8h.01M617.8,404.6h.01M587.8,391.4h.01M595.4,388.9h.01M608.6,378.7h.01M599.1,389.4h.01M607.0,397.1h.01M596.5,399.9h.01M598.3,383.4h.01M600.7,380.4h.01M609.0,387.5h.01M616.1,396.4h.01M597.1,378.8h.01M596.5,403.4h.01M610.4,385.5h.01M615.7,411.0h.01M593.1,400.5h.01M594.3,406.6h.01M607.6,381.2h.01M600.4,407.8h.01M618.9,397.9h.01M607.9,384.1h.01M608.1,413.0h.01M591.7,387.5h.01M605.8,387.2h.01M596.9,411.8h.01M589.5,403.2h.01M584.4,394.0h.01M586.6,388.7h.01M609.9,390.8h.01M611.5,415.0h.01M604.4,397.1h.01M606.4,395.5h.01M587.3,393.2h.01M613.5,396.9h.01M601.0,401.6h.01M607.8,415.4h.01M614.4,399.7h.01M628.4,408.4h.01M625.3,419.6h.01M622.7,411.9h.01M615.6,417.3h.01M629.4,410.9h.01M624.6,408.6h.01M620.7,417.7h.01M623.7,418.7h.01M621.6,401.5h.01M627.4,413.3h.01M624.2,400.7h.01M623.7,413.8h.01M615.3,414.2h.01M620.3,419.4h.01M625.5,414.9h.01M620.1,400.1h.01M627.8,418.3h.01M620.6,406.6h.01M614.3,416.3h.01M632.8,415.1h.01M629.8,419.0h.01M617.8,396.5h.01M598.5,428.0h.01M586.7,415.7h.01M583.1,465.6h.01M604.5,417.6h.01M637.1,423.0h.01M589.6,414.8h.01M635.0,440.6h.01M615.9,444.7h.01M632.3,446.1h.01M624.6,425.9h.01M643.1,430.7h.01M581.9,475.1h.01M604.7,448.7h.01M609.2,457.6h.01M618.5,427.7h.01M626.7,421.6h.01M611.2,429.6h.01M614.1,432.0h.01M607.5,466.3h.01M579.7,463.2h.01M607.8,453.9h.01M586.6,470.2h.01M641.2,433.7h.01M594.1,436.5h.01M623.7,461.1h.01M590.5,418.9h.01M592.2,454.8h.01M628.0,440.8h.01M613.4,453.1h.01M623.6,439.4h.01M599.9,445.4h.01M616.0,420.7h.01M607.0,444.1h.01M629.3,430.3h.01M619.0,444.1h.01M595.9,442.5h.01M595.2,437.8h.01M594.4,443.0h.01M619.5,468.1h.01M580.7,464.5h.01M620.1,461.8h.01M640.6,435.8h.01M630.8,456.1h.01M597.0,444.5h.01M602.1,463.7h.01M596.2,440.1h.01M630.3,419.3h.01M631.3,447.4h.01M623.2,455.6h.01M591.0,468.9h.01M618.9,434.8h.01M595.8,418.8h.01M584.7,449.2h.01M600.8,455.8h.01M590.1,453.7h.01M593.8,439.4h.01M591.7,417.8h.01M589.8,425.0h.01M600.6,433.5h.01M595.8,461.8h.01M601.2,469.6h.01M605.0,433.6h.01M578.9,455.6h.01M608.1,419.6h.01M612.5,430.9h.01M595.9,469.0h.01M621.6,454.5h.01M606.2,461.1h.01M578.4,467.6h.01M606.7,447.6h.01M599.0,420.8h.01M628.3,446.9h.01M591.5,460.4h.01M601.3,424.6h.01M578.3,461.8h.01M610.2,445.0h.01M599.2,425.8h.01M609.5,439.0h.01M627.8,458.9h.01M595.8,427.7h.01M610.2,459.3h.01M592.8,470.0h.01M613.6,421.2h.01M627.8,438.4h.01M613.5,468.6h.01M597.7,421.8h.01M638.7,427.2h.01M597.8,462.1h.01M611.0,469.2h.01M584.1,446.3h.01M615.0,428.2h.01M579.4,460.1h.01M599.2,432.0h.01M613.1,455.0h.01M621.7,429.3h.01M592.3,441.2h.01M602.2,420.4h.01M641.4,423.0h.01M585.4,421.2h.01M620.4,420.1h.01M625.2,430.5h.01M585.6,441.3h.01M608.1,422.4h.01M623.8,464.4h.01M597.5,466.9h.01M610.1,435.2h.01M641.8,438.7h.01M596.3,423.3h.01M626.2,450.7h.01M589.6,429.8h.01M586.7,452.2h.01M633.8,420.3h.01M597.6,446.3h.01M607.8,441.7h.01M592.5,435.9h.01M597.6,454.1h.01M617.7,466.4h.01M602.2,461.2h.01M634.6,424.6h.01M625.5,424.1h.01M606.5,420.1h.01M590.6,464.1h.01M626.1,443.6h.01M638.6,419.1h.01M594.9,455.2h.01M604.6,423.3h.01M593.4,428.7h.01M613.2,433.7h.01M639.4,424.7h.01M624.8,465.9h.01M602.1,450.3h.01M644.7,427.1h.01M604.6,435.5h.01M613.4,428.0h.01M586.3,445.7h.01M603.6,427.6h.01M583.2,470.3h.01M609.8,450.0h.01M619.7,459.9h.01M626.5,426.4h.01M587.5,455.2h.01M585.6,419.1h.01M639.8,423.1h.01M615.1,424.4h.01M584.4,467.4h.01M598.0,435.9h.01M581.0,470.5h.01M617.0,437.6h.01M618.1,442.1h.01M615.5,470.4h.01M603.9,450.3h.01M579.3,473.0h.01M586.7,463.6h.01M622.2,437.6h.01M602.6,434.2h.01M599.2,440.0h.01M587.5,438.6h.01M616.0,448.2h.01M593.6,457.1h.01M612.4,425.3h.01M583.4,443.9h.01M638.6,437.1h.01M605.6,467.8h.01M591.3,450.7h.01M608.3,426.2h.01M637.3,438.4h.01M635.3,433.8h.01M589.0,469.0h.01M632.0,426.1h.01M612.0,422.1h.01M606.5,450.9h.01M612.9,459.1h.01M588.3,472.4h.01M606.6,438.8h.01M625.9,445.8h.01M628.0,431.6h.01M617.4,462.2h.01M614.4,466.9h.01M601.4,458.0h.01M604.0,444.8h.01M580.4,468.4h.01M642.2,435.7h.01M599.8,418.6h.01M641.5,420.7h.01M605.5,429.0h.01M591.1,432.0h.01M610.8,467.2h.01M603.3,465.7h.01M590.6,436.4h.01M594.0,458.9h.01M596.5,431.5h.01M588.7,442.6h.01M593.2,445.7h.01M633.3,442.3h.01M598.2,469.3h.01M620.8,450.9h.01M594.7,420.4h.01M615.1,453.1h.01M635.6,436.2h.01M592.5,464.6h.01M583.6,472.8h.01M594.0,432.8h.01M605.5,466.1h.01M632.0,443.2h.01M643.7,437.2h.01M711.8,458.1h.01M714.9,462.6h.01M682.8,456.6h.01M674.6,442.6h.01M704.6,444.8h.01M669.9,454.3h.01M685.4,450.3h.01M688.8,469.1h.01M696.4,431.4h.01M716.4,447.0h.01M705.3,472.4h.01M672.5,438.6h.01M689.2,435.7h.01M670.5,439.6h.01M720.3,469.4h.01M679.8,421.8h.01M704.0,475.4h.01M690.5,464.4h.01M716.6,463.1h.01M711.2,468.3h.01M687.4,420.5h.01M718.7,470.9h.01M669.1,451.2h.01M686.3,460.1h.01M697.9,468.4h.01M674.9,458.9h.01M693.3,470.8h.01M724.1,466.2h.01M699.1,465.0h.01M687.0,433.7h.01M702.7,442.1h.01M714.6,460.5h.01M707.7,467.0h.01M695.3,436.5h.01M672.0,442.8h.01M683.7,465.5h.01M710.7,435.1h.01M699.2,459.4h.01M706.6,452.0h.01M727.0,452.9h.01M699.5,441.0h.01M678.0,428.0h.01M691.8,446.3h.01M681.3,440.4h.01M672.3,452.6h.01M706.4,431.6h.01M723.6,452.8h.01M699.4,469.5h.01M707.0,447.9h.01M671.6,457.8h.01M683.5,425.3h.01M696.7,446.2h.01M691.6,432.2h.01M711.7,441.5h.01M677.8,463.5h.01M684.8,441.7h.01M715.6,440.3h.01M676.8,442.9h.01M675.1,450.5h.01M717.8,452.6h.01M684.2,462.5h.01M704.4,446.9h.01M679.1,426.5h.01M685.5,431.5h.01M680.1,453.7h.01M690.0,455.3h.01M679.0,438.4h.01M684.6,436.1h.01M684.7,458.3h.01M692.0,453.6h.01M700.1,472.6h.01M679.5,450.9h.01M686.7,442.3h.01M679.7,459.9h.01M710.4,464.7h.01M700.1,453.9h.01M673.6,444.5h.01M711.9,452.8h.01M718.4,444.1h.01M721.2,451.3h.01M691.6,467.7h.01M714.5,444.0h.01M713.7,465.5h.01M684.8,429.7h.01M712.3,438.6h.01M684.3,439.1h.01M697.5,452.2h.01M706.8,468.9h.01M694.1,424.9h.01M720.4,448.6h.01M697.6,440.4h.01M696.1,462.6h.01M716.5,454.6h.01M701.2,448.5h.01M699.7,432.2h.01M724.2,472.0h.01M694.3,460.1h.01M692.3,423.4h.01M692.7,458.1h.01M716.1,467.8h.01M685.4,422.8h.01M682.1,463.5h.01M688.4,443.0h.01M697.9,438.7h.01M693.1,430.4h.01M680.8,445.0h.01M687.1,462.4h.01M681.0,424.4h.01M675.5,440.3h.01M683.4,432.5h.01M713.4,446.4h.01M705.7,443.7h.01M681.2,426.5h.01M677.8,441.2h.01M693.7,432.0h.01M710.0,473.4h.01M702.9,453.0h.01M693.3,451.4h.01M690.1,462.1h.01M678.5,435.0h.01M693.3,461.8h.01M702.3,473.0h.01M682.7,428.6h.01M695.6,457.5h.01M714.6,474.8h.01M679.7,432.6h.01M680.1,442.9h.01M694.4,439.0h.01M698.6,449.9h.01M698.4,433.3h.01M691.2,437.5h.01M683.1,450.9h.01M706.8,441.1h.01M676.5,446.9h.01M709.3,440.8h.01M708.5,460.6h.01M675.8,456.6h.01M701.2,475.4h.01M716.7,449.7h.01M725.8,448.7h.01M693.0,443.5h.01M725.8,451.5h.01M701.6,443.8h.01M721.1,471.6h.01M699.7,451.9h.01M689.3,430.9h.01M713.9,449.4h.01M676.7,452.6h.01M726.0,468.6h.01M706.1,474.4h.01M705.3,463.9h.01M695.4,468.9h.01M725.5,463.9h.01M702.0,464.9h.01M723.0,446.4h.01M690.4,444.0h.01M711.6,436.6h.01M714.3,442.3h.01M687.4,438.6h.01M688.6,451.1h.01M686.2,456.9h.01M694.3,465.9h.01M698.5,463.1h.01M701.2,469.4h.01M721.5,466.1h.01M701.0,434.9h.01M720.7,458.1h.01M714.8,455.9h.01M677.9,456.5h.01M721.8,445.2h.01M692.8,441.1h.01M714.0,458.8h.01M708.5,438.2h.01M676.5,435.3h.01M721.7,468.3h.01M725.6,457.7h.01M703.7,451.5h.01M700.3,446.1h.01M718.2,446.2h.01M715.8,470.1h.01M720.6,462.6h.01M700.6,462.7h.01M690.6,425.0h.01M687.3,455.2h.01M678.0,448.5h.01M678.9,461.7h.01M686.6,425.5h.01M674.9,445.3h.01M725.0,470.3h.01M707.8,444.1h.01M705.6,466.0h.01M693.5,455.7h.01M680.3,437.2h.01M695.7,449.6h.01M673.3,450.5h.01M679.5,457.6h.01M681.9,430.0h.01M681.6,432.4h.01M696.1,454.2h.01M710.0,459.9h.01M676.4,426.8h.01M682.4,442.3h.01M674.8,454.1h.01M708.4,433.0h.01M702.2,458.4h.01M705.1,470.2h.01M670.9,450.2h.01M688.5,440.3h.01M681.8,422.2h.01M703.7,448.8h.01M707.6,454.8h.01M712.3,469.9h.01M717.5,457.8h.01M686.4,428.8h.01M688.0,428.0h.01M690.8,460.0h.01M727.0,461.4h.01M709.4,454.7h.01M727.4,467.7h.01M679.4,446.9h.01M720.2,460.4h.01M718.4,468.9h.01M702.1,437.3h.01M688.7,434.1h.01M689.9,449.2h.01M692.8,436.7h.01M687.0,422.6h.01M658.7,450.1h.01M674.6,433.7h.01M661.8,431.7h.01M664.9,438.7h.01M661.0,445.9h.01M670.3,428.7h.01M665.3,443.6h.01M666.7,431.8h.01M668.6,433.0h.01M671.5,435.0h.01M670.6,440.2h.01M654.0,431.7h.01M661.4,452.2h.01M671.6,430.0h.01M651.8,430.1h.01M656.0,427.1h.01M661.3,449.5h.01M667.2,438.4h.01M656.6,431.5h.01M659.4,452.6h.01M662.8,446.5h.01M663.1,443.7h.01M655.4,435.1h.01M665.0,441.2h.01M665.1,434.2h.01M659.8,443.3h.01M673.9,431.7h.01M661.4,437.4h.01M646.3,462.1h.01M648.3,462.2h.01M643.0,462.4h.01M654.9,461.8h.01M655.8,464.5h.01M658.8,463.5h.01M653.6,463.0h.01M645.8,464.5h.01M651.2,460.8h.01M661.2,461.2h.01M648.8,458.2h.01M652.2,464.2h.01M655.0,458.1h.01M651.0,466.1h.01M654.0,460.4h.01M657.5,461.7h.01M645.1,460.8h.01M649.6,445.6h.01M650.0,447.6h.01M641.4,454.6h.01M633.6,442.6h.01M621.0,446.6h.01M627.0,449.4h.01M540.0,433.6h.01M536.0,439.0h.01M533.0,445.6h.01M533.6,448.4h.01M561.4,443.4h.01M566.4,440.4h.01M571.0,443.0h.01M571.6,448.0h.01M566.6,458.0h.01M567.4,462.4h.01M573.6,455.4h.01M575.0,460.0h.01M578.0,464.0h.01M576.4,475.0h.01M581.6,475.6h.01M570.0,478.0h.01M567.0,481.4h.01M563.0,487.6h.01M565.6,488.0h.01M568.0,491.6h.01M534.4,507.6h.01M536.0,509.4h.01M555.6,521.6h.01M562.0,527.0h.01M565.6,524.6h.01M567.0,531.0h.01M573.6,533.0h.01M558.2,498.9h.01M566.1,501.7h.01M563.9,504.1h.01M563.5,498.6h.01M560.0,501.8h.01M563.7,501.2h.01M565.8,498.8h.01M561.7,500.6h.01M567.4,500.0h.01M578.1,537.5h.01M578.1,537.8h.01M582.6,540.2h.01M582.8,542.0h.01M588.8,542.8h.01M590.2,545.2h.01M590.8,547.0h.01M593.8,547.7h.01M594.7,550.5h.01M596.8,551.8h.01M192.6,521.7h.01M212.0,524.1h.01M188.7,552.6h.01M168.2,521.3h.01M227.5,532.8h.01M158.9,549.2h.01M216.6,533.5h.01M170.9,544.9h.01M205.7,554.4h.01M220.0,511.8h.01M159.7,561.5h.01M186.4,541.2h.01M180.3,549.2h.01M153.6,550.7h.01M174.7,512.3h.01M184.4,569.9h.01M204.8,498.9h.01M151.7,556.5h.01M194.0,526.8h.01M181.0,563.1h.01M221.3,515.6h.01M180.5,551.8h.01M205.0,522.4h.01M185.2,527.4h.01M191.2,531.4h.01M232.1,546.9h.01M224.5,530.8h.01M175.2,516.7h.01M169.8,516.1h.01M241.2,549.6h.01M197.0,569.5h.01M156.7,553.4h.01M202.8,536.9h.01M173.3,527.1h.01M161.1,532.0h.01M208.9,553.0h.01M167.2,525.8h.01M189.4,569.0h.01M162.2,558.4h.01M223.3,517.4h.01M205.8,527.4h.01M154.4,545.9h.01M185.6,562.0h.01M150.2,541.4h.01M222.0,520.0h.01M222.7,528.7h.01M197.3,549.6h.01M197.4,563.2h.01M190.4,510.9h.01M184.4,543.9h.01M165.0,540.9h.01M189.8,521.1h.01M222.3,506.6h.01M194.3,509.2h.01M178.1,544.4h.01M219.6,513.4h.01M220.7,530.9h.01M163.3,551.2h.01M242.5,547.8h.01M210.7,514.7h.01M234.0,545.6h.01M163.9,529.5h.01M146.6,552.6h.01M154.4,542.2h.01M182.2,508.1h.01M213.0,514.6h.01M161.0,529.1h.01M156.1,536.9h.01M217.9,536.1h.01M185.5,567.1h.01M150.5,544.2h.01M189.0,519.7h.01M195.6,535.5h.01M185.9,524.3h.01M226.7,511.5h.01M188.5,530.0h.01M207.6,528.7h.01M240.7,542.4h.01M171.0,521.2h.01M189.3,542.8h.01M176.1,565.1h.01M165.9,536.3h.01M225.7,528.7h.01M223.5,544.7h.01M200.2,518.3h.01M158.2,537.3h.01M196.0,543.5h.01M180.8,526.4h.01M193.3,545.2h.01M193.3,537.0h.01M206.3,513.2h.01M162.7,549.0h.01M203.9,527.1h.01M216.9,508.3h.01M182.0,547.8h.01M195.3,554.8h.01M201.8,530.3h.01M208.3,515.5h.01M205.3,556.4h.01M173.3,534.9h.01M234.4,543.6h.01M224.7,509.5h.01M183.5,514.7h.01M230.1,549.6h.01M161.6,541.4h.01M218.3,552.4h.01M232.2,539.5h.01M212.6,543.1h.01M163.8,518.8h.01M224.9,523.2h.01M174.5,523.2h.01M227.5,524.9h.01M212.9,552.7h.01M207.7,503.8h.01M156.9,534.0h.01M202.6,514.1h.01M221.1,546.0h.01M190.4,567.2h.01M181.8,543.8h.01M191.4,528.3h.01M176.1,547.1h.01M180.7,524.2h.01M211.7,521.8h.01M218.3,519.9h.01M163.5,531.1h.01M202.1,553.9h.01M215.8,505.3h.01M181.1,536.0h.01M182.3,517.2h.01M178.7,515.2h.01M170.7,557.3h.01M190.6,539.5h.01M211.5,557.1h.01M155.9,555.0h.01M189.1,550.8h.01M209.2,499.8h.01M230.5,540.5h.01M161.2,563.7h.01M206.5,535.0h.01M199.5,544.7h.01M225.3,525.6h.01M202.3,508.0h.01M157.1,540.3h.01M183.2,505.9h.01M204.6,506.7h.01M209.1,557.1h.01M213.1,510.0h.01M203.3,521.5h.01M167.7,536.6h.01M172.0,530.0h.01M174.7,538.8h.01M189.8,561.6h.01M223.0,542.9h.01M173.2,561.0h.01M238.9,546.0h.01M164.5,552.6h.01M234.0,541.1h.01M240.0,547.8h.01M200.3,548.5h.01M223.2,546.5h.01M225.6,519.1h.01M177.3,562.1h.01M227.4,522.0h.01M220.7,551.1h.01M170.1,542.6h.01M166.3,517.6h.01M167.2,556.5h.01M203.1,532.4h.01M210.2,540.1h.01M214.5,527.5h.01M239.5,550.8h.01M218.1,504.9h.01M177.9,522.7h.01M193.6,566.0h.01M204.2,510.2h.01M185.1,558.4h.01M206.8,511.0h.01M166.6,547.8h.01M198.3,515.2h.01M226.1,550.9h.01M216.5,544.3h.01M228.0,554.4h.01M207.5,536.8h.01M195.4,546.0h.01M186.3,508.6h.01M193.7,561.1h.01M229.4,538.9h.01M182.9,534.0h.01M191.7,508.9h.01M179.8,528.3h.01M181.5,565.1h.01M194.9,525.1h.01M228.0,529.0h.01M217.3,513.6h.01M201.8,505.9h.01M189.3,546.5h.01M153.5,540.3h.01M169.2,530.2h.01M232.1,536.0h.01M215.9,554.4h.01M175.0,552.5h.01M220.9,522.1h.01M218.8,550.0h.01M175.5,554.0h.01M215.4,514.3h.01M198.2,558.3h.01M157.2,544.8h.01M148.5,552.3h.01M203.8,529.7h.01M183.5,526.0h.01M180.4,516.2h.01M212.6,526.3h.01M201.4,551.5h.01M191.7,540.9h.01M200.8,558.2h.01M217.0,538.4h.01M197.9,523.3h.01M162.3,527.2h.01M209.9,530.3h.01M201.8,525.2h.01M173.6,529.3h.01M200.8,511.0h.01M222.7,554.7h.01M194.6,515.8h.01M158.5,527.8h.01M169.7,560.9h.01M188.4,565.2h.01M155.3,551.2h.01M208.9,547.3h.01M190.6,503.1h.01M157.9,529.4h.01M229.2,530.4h.01M217.4,526.9h.01M179.2,520.0h.01M179.7,556.8h.01M161.4,560.3h.01M202.9,518.0h.01M167.9,541.4h.01M184.6,531.8h.01M174.1,519.1h.01M195.5,506.9h.01M197.1,526.9h.01M177.4,518.5h.01M187.8,556.5h.01M220.5,527.7h.01M182.9,522.4h.01M176.2,514.9h.01M197.1,552.7h.01M187.1,506.1h.01M213.2,503.0h.01M180.4,559.9h.01M202.4,502.7h.01M182.7,510.7h.01M214.9,516.6h.01M150.8,546.8h.01M219.6,525.8h.01M210.5,507.6h.01M214.5,507.2h.01M223.8,553.0h.01M236.0,546.4h.01M213.4,518.7h.01M229.1,515.7h.01M148.9,542.6h.01M192.2,560.2h.01M203.4,524.2h.01M173.3,546.7h.01M214.4,541.8h.01M236.1,543.6h.01M230.6,552.4h.01M196.4,517.0h.01M226.7,542.8h.01M228.8,512.5h.01M191.0,524.6h.01M209.2,554.8h.01M239.5,544.4h.01M184.4,541.8h.01M150.0,555.8h.01M216.1,549.6h.01M170.1,553.0h.01M181.6,568.9h.01M164.5,560.3h.01M200.6,509.3h.01M197.5,528.7h.01M198.1,501.7h.01M228.9,525.7h.01M224.4,554.8h.01M151.9,545.3h.01M208.9,526.9h.01M196.5,533.8h.01M165.1,533.7h.01M198.3,519.8h.01M169.9,528.1h.01M199.0,563.8h.01M195.4,563.0h.01M169.7,562.9h.01M213.7,523.2h.01M219.4,507.7h.01M150.7,536.8h.01M234.2,535.1h.01M185.9,569.6h.01M197.4,511.3h.01M207.8,499.0h.01M199.5,512.4h.01M195.6,558.9h.01M168.8,518.7h.01M211.7,501.2h.01M158.0,554.2h.01M219.4,503.3h.01M193.4,531.4h.01M191.0,516.8h.01M162.1,543.7h.01M169.3,545.9h.01M218.7,521.6h.01M209.5,517.1h.01M203.5,556.4h.01M210.0,551.0h.01M198.1,517.7h.01M177.5,538.9h.01M196.6,561.8h.01M226.9,517.7h.01M219.2,541.9h.01M174.9,562.5h.01M216.4,541.6h.01M181.4,557.4h.01M185.0,530.1h.01M175.2,549.0h.01M207.2,550.8h.01M186.2,515.1h.01M200.6,540.0h.01M212.0,548.8h.01M237.4,547.4h.01M199.2,560.2h.01M210.9,547.4h.01M173.0,540.5h.01M171.9,552.0h.01M184.9,552.4h.01M183.2,554.9h.01M163.0,523.2h.01M187.3,537.2h.01M170.9,535.8h.01M193.7,568.5h.01M184.7,522.8h.01M203.8,534.2h.01M174.9,544.9h.01M159.3,544.7h.01M206.7,521.6h.01M225.2,547.8h.01M165.5,557.7h.01M185.7,511.3h.01M201.1,542.1h.01M192.9,517.1h.01M207.8,507.4h.01M170.0,565.7h.01M215.8,512.4h.01M191.4,548.2h.01M203.3,499.7h.01M211.1,544.5h.01M168.0,563.1h.01M229.2,533.9h.01M200.0,536.4h.01M205.0,532.4h.01M173.2,521.6h.01M205.7,517.1h.01M170.6,539.7h.01M175.9,541.9h.01M202.8,541.7h.01M156.2,548.0h.01M237.0,537.3h.01M197.8,567.6h.01M165.6,519.1h.01M166.2,550.5h.01M185.5,539.7h.01M150.2,539.7h.01M154.2,538.5h.01M195.5,523.4h.01M154.5,536.0h.01M166.4,542.9h.01M163.5,520.4h.01M205.2,551.3h.01M158.8,530.9h.01M213.4,550.5h.01M214.9,552.3h.01M180.2,546.0h.01M209.1,536.0h.01M228.5,544.7h.01M164.0,564.5h.01M191.9,562.1h.01M181.5,519.2h.01M172.9,557.6h.01M148.6,549.2h.01M218.8,516.7h.01M209.9,522.5h.01M234.7,552.9h.01M180.8,529.8h.01M200.6,528.2h.01M198.1,504.1h.01M197.4,539.7h.01M207.9,518.9h.01M195.9,528.4h.01M178.6,529.7h.01M187.7,525.7h.01M160.6,549.7h.01M206.2,552.7h.01M199.7,526.4h.01M190.1,545.1h.01M222.3,512.7h.01M180.9,522.4h.01M150.4,550.5h.01M219.5,554.3h.01M157.0,557.5h.01M196.8,531.6h.01M204.5,539.3h.01M214.2,532.3h.01M218.2,511.8h.01M215.6,534.3h.01M187.0,560.4h.01M168.7,522.4h.01M237.1,539.6h.01M220.3,510.3h.01M185.3,521.0h.01M226.6,549.0h.01M160.0,539.7h.01M222.5,509.8h.01M196.7,500.6h.01M176.7,528.0h.01M180.4,548.4h.01M210.6,528.4h.01M208.0,549.0h.01M201.2,522.1h.01M187.3,521.5h.01M226.6,536.4h.01M153.5,549.4h.01M170.8,532.9h.01M176.9,520.7h.01M220.5,518.3h.01M200.3,524.3h.01M218.0,528.5h.01M227.3,513.4h.01M165.3,530.9h.01M184.4,507.4h.01M209.6,503.9h.01M161.2,547.7h.01M224.2,527.1h.01M174.8,536.7h.01M175.0,512.6h.01M195.3,551.1h.01M194.5,547.4h.01M195.6,567.0h.01M216.1,547.9h.01M188.9,532.9h.01M161.7,555.7h.01M193.1,557.0h.01M199.2,521.9h.01M230.5,531.5h.01M213.0,546.0h.01M206.1,499.5h.01M148.5,554.9h.01M191.4,511.8h.01M232.7,542.4h.01M218.9,532.9h.01M224.9,513.2h.01M202.3,545.1h.01M193.7,507.5h.01M159.7,525.5h.01M232.5,544.2h.01M169.0,535.0h.01M190.3,521.4h.01M165.4,523.7h.01M207.3,555.3h.01M212.4,528.5h.01M198.3,532.6h.01M176.6,563.5h.01M178.7,542.8h.01M162.7,550.9h.01M208.6,508.9h.01M221.7,530.3h.01M204.6,537.4h.01M179.9,564.4h.01M190.1,558.5h.01M202.0,535.4h.01M165.3,539.3h.01M194.1,501.0h.01M161.2,521.3h.01M218.0,546.5h.01M211.8,506.6h.01M166.0,563.6h.01M223.5,544.5h.01M175.4,525.4h.01M180.9,538.4h.01M193.5,541.5h.01M232.5,550.9h.01M187.4,519.6h.01M193.6,523.3h.01M173.4,543.2h.01M193.0,512.3h.01M187.7,513.8h.01M191.0,505.5h.01M184.6,535.5h.01M221.1,538.5h.01M162.6,552.8h.01M180.7,554.9h.01M199.0,553.9h.01M208.7,533.5h.01M182.9,557.9h.01M215.5,518.3h.01M223.1,515.5h.01M179.2,566.2h.01M186.2,566.7h.01M188.0,562.0h.01M161.6,540.3h.01M173.6,554.4h.01M231.2,548.9h.01M159.3,534.7h.01M161.9,529.2h.01M192.3,551.8h.01M172.5,524.3h.01M223.9,570.1h.01M220.1,565.6h.01M240.9,569.5h.01M218.0,573.0h.01M239.7,567.7h.01M237.7,574.5h.01M222.2,564.4h.01M220.4,574.0h.01M239.5,565.4h.01M222.7,568.5h.01M229.5,572.7h.01M233.4,574.9h.01M230.8,570.6h.01M224.7,580.4h.01M237.1,570.8h.01M237.2,565.5h.01M216.2,567.8h.01M227.4,575.2h.01M239.5,572.6h.01M232.5,572.5h.01M214.0,568.1h.01M237.6,562.9h.01M237.2,569.0h.01M215.9,570.5h.01M219.9,577.1h.01M225.6,570.8h.01M244.0,571.4h.01M215.3,565.4h.01M243.9,574.8h.01M243.5,568.9h.01M241.5,571.2h.01M229.2,578.7h.01M220.6,571.1h.01M242.4,567.0h.01M224.6,574.4h.01M235.6,572.2h.01M231.1,573.5h.01M247.3,576.4h.01M234.7,577.8h.01M218.4,570.4h.01M225.1,577.7h.01M218.1,568.8h.01M223.2,573.2h.01M245.4,569.9h.01M232.0,578.6h.01M218.3,577.6h.01M219.8,568.2h.01M240.1,563.9h.01M206.0,568.0h.01M207.0,571.0h.01M237.4,503.0h.01M236.0,509.0h.01M239.0,508.0h.01M237.4,514.0h.01M237.4,522.4h.01M244.6,525.0h.01M236.6,531.6h.01M241.0,499.0h.01M244.0,497.0h.01M247.0,495.6h.01M245.0,509.0h.01M248.0,507.0h.01M251.0,503.0h.01M254.0,503.0h.01M250.0,501.0h.01M259.2,490.3h.01M256.7,495.0h.01M253.1,490.0h.01M256.2,492.9h.01M258.1,491.7h.01M261.3,491.4h.01M257.7,489.4h.01M260.4,494.0h.01M255.0,495.8h.01M258.9,494.8h.01M253.4,493.8h.01M257.0,497.3h.01M450.3,598.4h.01M441.4,567.8h.01M438.0,588.3h.01M428.1,582.5h.01M518.0,536.8h.01M497.2,547.8h.01M469.6,588.9h.01M450.5,584.0h.01M505.1,559.8h.01M465.9,559.1h.01M515.5,542.2h.01M474.9,591.3h.01M432.2,536.9h.01M519.1,563.1h.01M452.2,598.3h.01M507.2,559.8h.01M522.0,540.5h.01M504.6,572.7h.01M520.5,549.8h.01M487.6,589.3h.01M420.3,545.9h.01M449.9,578.6h.01M469.5,590.7h.01M511.4,532.4h.01M466.0,590.9h.01M505.3,545.4h.01M502.1,567.8h.01M426.5,576.3h.01M512.8,540.6h.01M507.9,536.3h.01M479.6,578.0h.01M465.9,576.1h.01M509.5,575.4h.01M497.3,554.1h.01M418.1,548.2h.01M509.9,558.2h.01M504.0,557.4h.01M431.7,563.9h.01M441.7,581.3h.01M428.6,574.3h.01M448.3,595.8h.01M487.2,561.9h.01M465.9,584.9h.01M513.1,529.7h.01M479.0,576.4h.01M512.3,553.6h.01M443.5,594.3h.01M486.1,564.6h.01M461.4,588.4h.01M484.6,557.7h.01M462.8,589.8h.01M504.4,564.1h.01M459.3,578.6h.01M489.9,584.3h.01M431.0,588.3h.01M441.5,571.6h.01M519.0,541.0h.01M507.4,571.2h.01M513.1,557.9h.01M495.2,572.2h.01M431.6,577.8h.01M517.4,533.3h.01M435.6,591.7h.01M518.8,556.0h.01M484.7,585.1h.01M462.0,573.5h.01M428.3,563.5h.01M495.5,577.6h.01M420.4,562.1h.01M475.7,580.5h.01M463.4,596.9h.01M448.9,583.4h.01M437.4,567.8h.01M487.4,576.5h.01M457.7,585.6h.01M468.1,598.3h.01M521.1,546.6h.01M496.8,562.5h.01M514.5,568.4h.01M493.3,577.7h.01M455.7,578.3h.01M515.4,550.4h.01M424.8,563.6h.01M518.0,545.9h.01M435.4,585.3h.01M468.5,579.4h.01M519.9,560.1h.01M504.2,581.3h.01M500.8,543.6h.01M452.0,565.3h.01M446.7,585.8h.01M464.5,560.8h.01M510.1,522.5h.01M431.0,576.0h.01M472.3,590.3h.01M445.1,583.5h.01M469.7,582.6h.01M512.7,565.8h.01M436.8,578.3h.01M463.6,592.2h.01M508.6,524.3h.01M480.1,569.8h.01M494.3,550.5h.01M510.7,547.6h.01M429.1,548.3h.01M462.5,565.2h.01M429.4,577.5h.01M432.5,568.0h.01M450.8,572.2h.01M453.2,573.7h.01M493.2,575.4h.01M503.6,566.9h.01M430.2,580.8h.01M477.9,590.7h.01M489.0,561.1h.01M455.4,566.3h.01M481.4,564.2h.01M515.4,556.4h.01M469.7,595.0h.01M460.0,566.7h.01M454.7,595.9h.01M457.8,588.9h.01M438.0,565.1h.01M512.0,526.0h.01M426.1,560.2h.01M490.3,564.6h.01M516.3,540.2h.01M424.6,573.7h.01M459.5,599.1h.01M465.0,598.6h.01M439.6,593.0h.01M434.0,579.0h.01M520.6,536.0h.01M458.2,576.8h.01M435.0,567.1h.01M436.2,580.2h.01M499.8,575.6h.01M431.2,549.1h.01M491.0,561.0h.01M514.6,558.2h.01M431.7,542.8h.01M420.3,554.1h.01M431.9,547.0h.01M427.1,566.2h.01M429.5,571.6h.01M513.8,546.3h.01M426.6,580.9h.01M476.0,574.1h.01M455.9,571.6h.01M460.2,563.3h.01M480.4,595.4h.01M490.4,578.7h.01M445.7,571.3h.01M422.1,566.0h.01M454.4,598.5h.01M520.6,534.4h.01M447.3,588.3h.01M462.8,595.0h.01M469.0,566.8h.01M437.1,585.8h.01M497.4,557.7h.01M513.4,535.7h.01M487.9,578.8h.01M476.7,588.8h.01M467.6,595.5h.01M438.2,583.7h.01M474.7,558.3h.01M441.6,576.5h.01M437.4,594.7h.01M467.5,559.4h.01M497.6,576.8h.01M427.8,549.3h.01M466.9,573.1h.01M472.7,579.0h.01M475.5,561.2h.01M440.1,596.0h.01M491.0,585.6h.01M502.5,558.5h.01M424.8,570.7h.01M493.6,584.8h.01M511.7,538.8h.01M433.8,537.9h.01M445.9,581.2h.01M419.6,557.0h.01M462.2,577.9h.01M420.6,547.7h.01M501.6,550.2h.01M496.6,571.4h.01M441.8,564.4h.01M512.7,568.2h.01M428.9,565.7h.01M510.2,539.5h.01M481.2,590.3h.01M427.8,568.8h.01M470.4,592.5h.01M507.2,550.7h.01M487.6,554.9h.01M516.7,554.0h.01M439.3,586.9h.01M480.7,567.4h.01M450.5,588.0h.01M426.6,571.3h.01M429.9,569.3h.01M421.6,551.9h.01M514.1,560.2h.01M493.1,568.8h.01M509.3,534.4h.01M505.8,561.3h.01M519.0,548.8h.01M472.2,576.7h.01M511.6,544.9h.01M428.4,552.0h.01M432.6,589.6h.01M447.3,568.8h.01M434.9,587.0h.01M434.3,564.5h.01M439.8,563.1h.01M458.4,591.8h.01M493.8,557.7h.01M481.3,561.1h.01M446.4,575.4h.01M447.2,561.0h.01M438.8,581.2h.01M472.1,595.0h.01M447.5,573.8h.01M468.8,563.7h.01M504.1,561.7h.01M472.0,558.3h.01M452.6,587.6h.01M441.4,586.5h.01M428.3,538.6h.01M501.6,545.1h.01M482.3,576.8h.01M464.3,574.7h.01M452.9,594.0h.01M473.5,586.2h.01M507.3,556.7h.01M510.6,524.5h.01M501.3,564.7h.01M482.7,560.1h.01M514.0,533.1h.01M456.1,592.7h.01M483.5,562.0h.01M455.4,589.1h.01M459.2,564.6h.01M479.3,588.8h.01M488.5,569.6h.01M482.7,581.6h.01M490.6,553.7h.01M499.7,584.3h.01M427.2,547.0h.01M499.1,564.2h.01M481.8,586.6h.01M504.5,551.7h.01M502.4,552.6h.01M447.1,566.6h.01M500.3,580.6h.01M437.4,562.3h.01M491.0,582.4h.01M467.7,583.5h.01M509.5,552.2h.01M443.0,577.4h.01M434.2,569.3h.01M520.8,551.5h.01M494.6,579.0h.01M518.1,552.2h.01M445.3,597.2h.01M514.1,554.2h.01M514.4,571.2h.01M491.6,570.8h.01M441.5,591.9h.01M451.6,595.3h.01M471.2,571.3h.01M464.0,585.8h.01M444.2,567.5h.01M500.0,570.3h.01M490.7,569.2h.01M487.3,586.2h.01M462.6,561.5h.01M454.0,579.3h.01M502.9,547.9h.01M429.2,536.7h.01M487.3,559.9h.01M484.3,587.0h.01M443.1,587.6h.01M481.6,570.8h.01M476.5,584.3h.01M427.5,542.7h.01M506.8,578.1h.01M462.7,563.5h.01M470.6,566.4h.01M478.8,580.3h.01M503.0,578.5h.01M497.4,567.7h.01M492.7,552.1h.01M478.1,584.5h.01M434.4,589.2h.01M466.5,563.1h.01M492.2,564.0h.01M472.8,565.5h.01M482.3,594.4h.01M516.5,558.3h.01M514.8,537.9h.01M454.0,561.5h.01M441.7,562.6h.01M449.3,581.8h.01M514.0,573.1h.01M441.6,594.5h.01M518.0,538.6h.01M498.9,551.2h.01M493.8,564.8h.01M452.0,561.8h.01M454.8,563.0h.01M472.5,569.5h.01M444.7,561.6h.01M493.0,587.9h.01M490.4,580.6h.01M429.7,542.8h.01M429.1,560.6h.01M442.7,584.8h.01M432.4,571.3h.01M450.4,568.5h.01M491.1,589.1h.01M422.1,559.4h.01M448.7,575.7h.01M444.9,586.7h.01M433.7,575.5h.01M502.0,569.7h.01M423.0,569.9h.01M480.4,575.4h.01M475.9,576.4h.01M497.5,585.5h.01M487.3,557.8h.01M424.9,568.7h.01M441.5,574.1h.01M509.5,569.2h.01M474.3,569.1h.01M498.8,556.7h.01M510.5,561.3h.01M505.8,525.7h.01M476.6,594.2h.01M506.8,546.1h.01M496.6,543.2h.01M500.0,572.5h.01M477.1,586.5h.01M466.9,588.4h.01M482.0,583.3h.01M437.0,571.7h.01M424.0,565.3h.01M500.3,566.7h.01M489.2,554.6h.01M444.1,564.9h.01M430.3,584.6h.01M423.5,545.6h.01M501.5,581.9h.01M453.5,583.7h.01M463.0,570.4h.01M469.5,585.2h.01M496.8,555.9h.01M441.1,584.2h.01M482.3,588.7h.01M430.3,544.3h.01M453.5,577.4h.01M475.1,565.0h.01M484.4,593.8h.01M427.3,541.0h.01M461.7,567.3h.01M485.4,574.9h.01M516.4,531.5h.01M474.4,595.2h.01M449.1,562.4h.01M517.5,560.9h.01M507.4,561.8h.01M493.0,559.6h.01M465.3,593.5h.01M479.3,581.9h.01M488.6,567.1h.01M456.7,596.1h.01M430.8,565.6h.01M463.2,583.1h.01M418.5,555.3h.01M438.0,530.0h.01M437.0,531.6h.01M451.6,532.6h.01M442.0,544.4h.01M465.4,546.4h.01M471.0,544.0h.01M474.0,543.0h.01M479.4,538.0h.01M476.0,531.6h.01M481.0,523.4h.01M481.4,513.0h.01M495.6,528.0h.01M525.4,552.6h.01M482.0,477.4h.01M490.0,477.4h.01M489.6,485.0h.01M492.0,486.4h.01M490.6,490.0h.01M493.0,490.0h.01M491.0,497.0h.01M488.0,499.6h.01M494.0,499.0h.01M497.0,501.6h.01M481.4,503.4h.01M486.0,505.6h.01M492.0,505.0h.01M493.4,508.0h.01M500.0,510.0h.01M502.4,514.0h.01M494.0,515.6h.01M499.6,519.0h.01M498.0,522.0h.01M535.0,508.0h.01M536.4,509.4h.01M555.6,521.6h.01M561.6,527.0h.01M565.6,525.0h.01M566.6,531.0h.01M573.0,533.0h.01M569.0,479.0h.01M567.0,481.6h.01M563.0,487.6h.01M566.0,488.0h.01M568.0,491.6h.01M763.8,602.3h.01M744.6,593.3h.01M770.4,592.9h.01M767.9,597.7h.01M776.8,582.4h.01M759.3,601.2h.01M785.7,582.4h.01M743.6,589.1h.01M742.0,600.8h.01M778.0,590.9h.01M764.0,588.8h.01M746.5,603.9h.01M779.1,597.4h.01M782.1,581.4h.01M762.2,594.2h.01M754.2,591.2h.01M763.2,582.8h.01M738.4,591.2h.01M724.8,594.0h.01M730.2,600.6h.01M766.0,599.7h.01M751.0,601.4h.01M759.7,596.8h.01M769.9,602.1h.01M734.1,592.7h.01M723.7,590.8h.01M765.6,593.1h.01M711.9,587.5h.01M721.0,594.8h.01M782.9,583.1h.01M781.1,588.1h.01M773.4,601.5h.01M768.4,588.1h.01M773.9,580.8h.01M737.7,599.3h.01M780.2,582.5h.01M779.6,580.5h.01M785.2,585.7h.01M719.0,591.5h.01M729.2,592.7h.01M755.0,598.6h.01M766.8,602.8h.01M768.5,583.3h.01M775.6,581.1h.01M750.1,593.3h.01M775.2,596.7h.01M771.1,588.0h.01M774.7,588.7h.01M757.4,582.4h.01M732.6,591.6h.01M739.3,600.0h.01M754.7,602.3h.01M746.8,600.1h.01M751.6,598.5h.01M709.9,582.1h.01M757.8,596.3h.01M731.9,600.0h.01M758.4,594.8h.01M764.6,584.0h.01M785.8,587.4h.01M736.8,590.3h.01M738.6,596.2h.01M716.0,586.1h.01M762.2,596.8h.01M770.6,590.2h.01M713.9,585.0h.01M775.7,586.8h.01M772.4,590.7h.01M764.4,598.6h.01M770.4,598.0h.01M727.6,594.0h.01M760.3,604.8h.01M758.1,590.8h.01M769.3,581.6h.01M782.3,590.1h.01M748.9,589.1h.01M756.4,597.6h.01M767.9,591.7h.01M766.0,581.2h.01M771.0,595.1h.01M741.0,596.3h.01M767.4,595.1h.01M764.4,590.5h.01M787.4,584.0h.01M751.3,589.4h.01M754.7,596.7h.01M743.2,599.7h.01M770.5,583.3h.01M747.3,594.4h.01M715.7,590.8h.01M773.6,597.5h.01M755.6,590.1h.01M764.9,605.4h.01M755.2,593.0h.01M761.0,603.0h.01M716.8,594.2h.01M717.9,590.3h.01M780.1,585.4h.01M748.7,601.2h.01M756.8,604.0h.01M719.2,594.5h.01M723.0,593.6h.01M772.0,585.2h.01M755.6,595.0h.01M761.2,590.9h.01M729.4,595.8h.01M764.0,596.2h.01M754.3,600.4h.01M779.6,589.9h.01M753.9,605.3h.01M747.5,590.1h.01M740.7,593.9h.01M783.5,585.1h.01M748.2,599.1h.01M754.0,585.2h.01M775.2,599.4h.01M769.7,585.6h.01M767.6,580.3h.01M757.3,593.2h.01M707.2,580.1h.01M752.5,592.9h.01M762.8,599.8h.01M764.0,585.6h.01M720.7,590.3h.01M757.8,586.7h.01M760.6,592.5h.01M745.6,597.2h.01M714.5,588.5h.01M778.2,583.0h.01M730.6,593.6h.01M741.0,592.2h.01M755.3,583.6h.01M725.2,598.1h.01M757.4,588.6h.01M713.0,589.4h.01M784.7,579.5h.01M737.6,601.5h.01M748.7,604.4h.01M778.6,587.4h.01M736.2,591.8h.01M775.2,601.5h.01M776.7,589.5h.01M760.7,585.7h.01M766.4,583.8h.01M735.7,596.2h.01M772.5,593.7h.01M733.5,597.8h.01M742.7,603.7h.01M751.5,604.0h.01M766.4,590.2h.01M762.8,590.8h.01M727.3,591.7h.01M723.3,597.1h.01M763.3,593.0h.01M759.3,582.2h.01M742.2,594.9h.01M745.2,602.1h.01M777.5,586.2h.01M749.5,590.8h.01M740.9,599.1h.01M774.4,583.4h.01M726.0,587.4h.01M742.0,607.6h.01M705.6,580.0h.01M720.0,530.4h.01M723.6,535.6h.01M733.4,537.4h.01M732.4,555.6h.01M735.0,560.0h.01M734.4,563.0h.01M737.4,566.6h.01M762.0,568.0h.01M761.6,571.6h.01M776.0,571.0h.01M786.6,566.0h.01M786.0,569.0h.01M786.4,571.6h.01M911.0,542.0h.01M897.4,587.6h.01M912.6,679.0h.01M927.0,684.0h.01M759.1,554.6h.01M742.8,554.2h.01M745.7,537.3h.01M744.9,540.7h.01M747.1,561.3h.01M747.7,558.7h.01M743.1,540.8h.01M750.6,560.7h.01M742.7,548.1h.01M743.2,532.7h.01M748.1,545.1h.01M743.3,557.3h.01M751.8,550.7h.01M742.0,536.4h.01M740.9,553.5h.01M749.9,554.5h.01M744.4,544.3h.01M756.1,550.3h.01M756.5,556.3h.01M753.3,547.7h.01M747.6,541.7h.01M750.1,548.5h.01M740.9,532.3h.01M737.2,542.0h.01M755.3,558.8h.01M740.6,537.7h.01M740.5,530.6h.01M741.8,546.3h.01M737.3,539.0h.01M745.2,559.7h.01M744.1,546.9h.01M743.8,560.8h.01M750.1,550.5h.01M746.2,555.5h.01M763.8,561.1h.01M750.8,558.8h.01M756.3,553.8h.01M746.3,562.8h.01M738.3,543.9h.01M738.7,539.8h.01M741.4,543.7h.01M746.8,551.6h.01M753.5,554.6h.01M753.3,552.0h.01M760.5,559.3h.01M744.8,551.7h.01M750.2,546.3h.01M759.5,562.7h.01M747.4,553.8h.01M756.8,559.8h.01M742.3,551.4h.01M736.7,536.4h.01M745.7,535.0h.01M760.1,557.1h.01M761.2,561.9h.01M744.0,536.2h.01M746.3,546.2h.01M743.4,543.0h.01M749.7,566.7h.01M749.6,569.9h.01M752.4,571.5h.01M752.9,573.2h.01M757.4,577.9h.01M905.9,549.5h.01M906.0,551.8h.01M904.2,554.0h.01M904.4,554.6h.01M900.9,558.1h.01M900.3,562.0h.01M898.7,562.8h.01M898.1,564.5h.01M896.5,569.6h.01M894.1,569.5h.01M896.2,573.0h.01M894.8,577.4h.01M1023.2,734.6h.01M960.1,729.6h.01M1003.2,753.6h.01M956.1,764.1h.01M1003.4,735.9h.01M920.0,743.0h.01M995.7,743.5h.01M932.6,728.0h.01M937.9,757.6h.01M943.4,760.4h.01M990.1,751.8h.01M935.2,755.6h.01M934.5,744.0h.01M966.5,755.7h.01M951.5,770.4h.01M940.5,745.9h.01M943.2,722.0h.01M1012.3,711.2h.01M1010.7,693.1h.01M935.5,730.1h.01M950.9,759.0h.01M963.0,753.9h.01M998.2,728.9h.01M979.6,737.5h.01M1024.4,736.6h.01M969.6,681.7h.01M927.9,745.2h.01M943.7,735.2h.01M930.0,776.5h.01M1008.7,688.0h.01M985.5,775.5h.01M1018.8,694.2h.01M1017.3,752.2h.01M939.0,751.4h.01M930.7,784.2h.01M1004.7,744.5h.01M958.2,726.9h.01M978.2,759.4h.01M998.2,764.6h.01M922.7,761.1h.01M1007.2,762.3h.01M991.0,727.0h.01M1012.2,715.2h.01M983.2,762.4h.01M972.5,674.5h.01M942.7,732.5h.01M1001.2,692.1h.01M1002.7,770.7h.01M980.7,722.1h.01M999.1,715.1h.01M942.8,712.3h.01M909.9,774.4h.01M976.4,671.1h.01M977.6,769.0h.01M974.9,674.4h.01M1017.9,741.1h.01M966.4,698.1h.01M977.3,694.3h.01M985.6,736.0h.01M1004.8,705.4h.01M1005.1,737.4h.01M913.8,768.2h.01M945.3,717.9h.01M1026.2,739.2h.01M954.0,690.2h.01M955.2,777.0h.01M1017.9,689.3h.01M922.7,741.0h.01M1018.7,705.4h.01M929.2,740.0h.01M990.8,748.7h.01M998.6,723.5h.01M1027.0,709.8h.01M947.4,738.0h.01M930.0,758.7h.01M944.4,744.4h.01M928.2,735.0h.01M992.3,707.4h.01M1015.2,748.5h.01M998.6,683.3h.01M1021.7,697.2h.01M916.7,778.9h.01M963.0,712.0h.01M1016.9,734.9h.01M1025.6,701.6h.01M938.7,764.7h.01M911.6,745.9h.01M955.7,706.2h.01M941.7,759.5h.01M1014.5,722.1h.01M914.7,752.7h.01M922.7,736.2h.01M929.9,730.1h.01M927.3,720.4h.01M927.2,730.8h.01M1005.0,710.6h.01M979.9,777.6h.01M1016.7,738.2h.01M958.9,762.1h.01M1015.6,711.3h.01M951.3,730.9h.01M991.9,721.7h.01M966.9,691.2h.01M989.4,724.1h.01M974.6,712.5h.01M932.6,753.0h.01M972.7,727.9h.01M967.6,760.2h.01M1007.9,736.1h.01M996.0,680.3h.01M934.6,771.8h.01M942.4,771.6h.01M984.9,745.0h.01M1019.1,756.7h.01M965.8,770.3h.01M974.1,678.7h.01M914.7,731.8h.01M965.0,709.8h.01M955.3,746.4h.01M962.3,773.1h.01M1004.9,722.9h.01M970.2,726.3h.01M994.6,741.6h.01M933.4,723.7h.01M975.8,761.7h.01M933.9,779.9h.01M951.7,728.0h.01M995.8,737.7h.01M916.2,759.9h.01M987.0,714.1h.01M981.6,754.8h.01M951.4,704.1h.01M1024.0,702.0h.01M999.8,727.4h.01M984.3,722.8h.01M1016.2,730.1h.01M981.4,671.3h.01M1018.3,754.0h.01M974.0,781.0h.01M997.3,742.3h.01M977.2,720.7h.01M955.3,708.0h.01M987.6,738.0h.01M991.9,754.4h.01M954.6,688.2h.01M950.9,734.6h.01M972.8,695.9h.01M957.1,728.9h.01M949.0,772.2h.01M932.5,731.6h.01M975.5,768.8h.01M1020.2,738.2h.01M967.9,777.9h.01M982.7,712.3h.01M978.3,686.5h.01M999.7,677.5h.01M1010.5,685.9h.01M976.4,716.8h.01M974.9,708.7h.01M1022.3,750.0h.01M984.9,726.4h.01M962.2,680.8h.01M994.5,705.0h.01M1009.8,690.4h.01M976.8,691.2h.01M995.3,711.9h.01M928.0,776.4h.01M980.1,716.8h.01M947.0,728.5h.01M987.0,686.2h.01M1017.4,719.8h.01M995.2,750.0h.01M951.2,756.2h.01M1003.6,709.0h.01M999.2,725.0h.01M996.9,676.8h.01M981.6,703.7h.01M973.8,758.0h.01M984.8,708.7h.01M993.6,745.1h.01M970.3,710.8h.01M952.6,759.7h.01M950.1,709.7h.01M924.4,762.3h.01M933.8,761.9h.01M1015.5,699.9h.01M972.6,690.0h.01M958.0,722.6h.01M988.1,750.8h.01M950.7,697.2h.01M997.2,748.8h.01M972.7,680.7h.01M1005.6,715.0h.01M1023.8,706.7h.01M935.1,738.6h.01M969.0,701.5h.01M1008.6,729.9h.01M1024.2,720.3h.01M953.0,700.7h.01M968.6,739.7h.01M989.7,715.6h.01M918.5,764.0h.01M994.3,759.6h.01M968.2,703.0h.01M955.8,780.2h.01M971.9,729.3h.01M1025.1,708.6h.01M932.3,754.8h.01M974.6,699.4h.01M1025.7,755.1h.01M917.3,744.1h.01M967.0,772.4h.01M962.1,766.6h.01M954.1,691.9h.01M1004.8,742.8h.01M919.9,749.4h.01M1011.0,748.2h.01M922.9,784.5h.01M973.7,691.9h.01M963.7,707.7h.01M1014.4,704.2h.01M968.4,767.6h.01M995.2,756.2h.01M960.2,714.2h.01M988.5,752.7h.01M922.0,726.9h.01M983.5,697.1h.01M922.2,769.5h.01M991.8,685.2h.01M962.8,699.3h.01M941.6,755.4h.01M1008.4,766.4h.01M1001.6,727.7h.01M1002.6,757.1h.01M1022.6,700.8h.01M973.5,742.3h.01M1007.0,702.7h.01M972.0,755.1h.01M1015.9,731.7h.01M1000.5,694.4h.01M985.7,759.4h.01M1003.7,765.4h.01M1007.1,697.9h.01M925.7,723.2h.01M937.0,729.5h.01M942.7,750.9h.01M983.9,775.3h.01M954.3,724.6h.01M930.3,755.3h.01M971.6,737.5h.01M994.8,678.6h.01M954.3,715.4h.01M980.5,672.9h.01M958.3,778.5h.01M941.9,707.9h.01M966.6,682.1h.01M971.6,720.1h.01M993.6,753.4h.01M984.1,757.0h.01M910.3,767.8h.01M934.3,782.0h.01M920.9,730.4h.01M990.8,767.4h.01M942.9,737.8h.01M916.1,747.9h.01M979.4,735.5h.01M1017.3,724.1h.01M942.8,756.4h.01M980.4,723.9h.01M919.6,732.3h.01M960.0,708.5h.01M987.0,769.5h.01M982.9,719.6h.01M1004.8,773.5h.01M999.7,709.8h.01M985.3,753.1h.01M909.9,770.2h.01M941.4,749.0h.01M917.6,749.3h.01M969.5,752.3h.01M933.0,751.1h.01M962.9,677.8h.01M960.5,740.4h.01M990.4,771.1h.01M943.8,782.1h.01M994.2,776.7h.01M974.6,697.3h.01M969.7,750.0h.01M994.8,700.3h.01M948.8,729.2h.01M985.3,769.2h.01M989.1,730.5h.01M947.7,746.7h.01M929.3,770.7h.01M980.1,687.0h.01M986.5,729.3h.01M997.4,730.9h.01M957.1,759.9h.01M987.9,695.2h.01M948.8,723.4h.01M970.3,721.8h.01M970.1,772.5h.01M923.9,748.9h.01M943.1,718.7h.01M1021.7,722.1h.01M948.9,720.5h.01M930.0,720.9h.01M952.7,776.1h.01M933.7,749.6h.01M977.2,699.3h.01M1004.8,731.2h.01M988.6,759.9h.01M916.0,776.9h.01M968.3,723.0h.01M925.8,750.6h.01M983.4,751.7h.01M1002.7,733.9h.01M952.9,741.0h.01M966.6,738.3h.01M913.6,743.0h.01M996.8,719.8h.01M930.2,745.8h.01M966.5,729.4h.01M1014.3,762.6h.01M991.1,702.9h.01M1004.3,748.0h.01M1025.1,717.6h.01M989.0,698.0h.01M949.6,768.8h.01M990.9,750.3h.01M976.9,771.0h.01M911.0,772.0h.01M1010.4,767.2h.01M917.7,750.9h.01M987.6,682.6h.01M956.7,741.7h.01M976.3,688.5h.01M978.7,752.8h.01M958.0,769.6h.01M971.9,683.4h.01M999.3,713.1h.01M982.9,689.1h.01M1010.2,760.3h.01M916.3,757.9h.01M929.0,767.9h.01M984.8,688.8h.01M941.7,709.9h.01M972.5,744.3h.01M952.4,712.4h.01M1000.3,755.8h.01M916.6,774.6h.01M922.0,725.0h.01M921.4,748.3h.01M954.4,768.8h.01M941.0,762.2h.01M984.9,703.4h.01M919.4,778.2h.01M1025.2,710.2h.01M949.2,778.8h.01M960.4,703.8h.01M940.0,709.4h.01M925.8,774.6h.01M949.6,783.7h.01M1006.7,758.7h.01M955.4,750.9h.01M1025.8,728.8h.01M916.6,737.7h.01M943.5,748.1h.01M920.1,783.5h.01M975.2,682.0h.01M1008.0,773.0h.01M956.0,697.1h.01M1006.9,741.4h.01M1011.7,728.0h.01M954.3,717.6h.01M1009.1,683.5h.01M1012.8,721.0h.01M960.1,736.9h.01M925.3,745.7h.01M1013.9,733.5h.01M986.2,718.9h.01M967.4,674.5h.01M1023.0,759.1h.01M925.8,754.4h.01M1001.5,772.5h.01M945.6,720.0h.01M966.5,680.0h.01M1012.1,736.5h.01M965.8,687.7h.01M964.0,727.9h.01M1010.4,758.3h.01M966.6,765.6h.01M963.3,742.5h.01M1022.4,753.8h.01M954.2,743.9h.01M970.0,714.4h.01M983.1,771.0h.01M1019.7,747.2h.01M977.1,724.9h.01M962.4,688.5h.01M1019.0,759.2h.01M923.4,746.8h.01M1021.0,760.6h.01M919.7,769.1h.01M1022.1,734.8h.01M979.6,728.9h.01M1017.9,726.0h.01M1015.2,752.1h.01M981.4,739.7h.01M997.1,692.0h.01M998.4,750.1h.01M921.9,754.3h.01M989.9,687.3h.01M1014.2,685.1h.01M988.7,765.7h.01M996.1,703.6h.01M1022.4,711.6h.01M952.9,696.6h.01M968.3,775.6h.01M1003.2,760.2h.01M945.5,781.9h.01M1013.8,755.8h.01M1022.0,715.2h.01M986.2,766.9h.01M991.7,724.4h.01M952.5,702.4h.01M922.1,785.9h.01M946.7,749.4h.01M1026.7,713.9h.01M1012.5,749.3h.01M966.2,712.0h.01M994.0,681.8h.01M995.3,684.9h.01M1008.8,698.1h.01M974.1,763.6h.01M967.8,780.0h.01M982.1,776.9h.01M933.7,743.2h.01M974.6,734.5h.01M1008.5,747.1h.01M984.0,681.9h.01M963.0,734.8h.01M929.3,785.8h.01M970.2,735.6h.01M1024.0,736.1h.01M962.7,702.2h.01M941.9,775.6h.01M978.7,723.7h.01M1006.9,695.1h.01M941.2,738.9h.01M928.0,774.6h.01M945.4,734.9h.01M982.9,723.8h.01M960.1,742.5h.01M1007.8,692.9h.01M975.5,723.0h.01M997.1,772.6h.01M983.3,746.8h.01M910.8,730.2h.01M1008.9,715.5h.01M932.4,738.2h.01M925.6,776.9h.01M975.9,743.9h.01M1008.4,728.1h.01M924.0,758.7h.01M939.1,771.3h.01M947.2,743.3h.01M937.0,724.6h.01M999.3,687.6h.01M944.0,708.9h.01M912.9,767.6h.01M911.3,747.5h.01M939.1,734.5h.01M984.5,677.0h.01M952.7,762.1h.01M961.9,756.7h.01M986.3,697.0h.01M1001.0,767.8h.01M921.0,767.1h.01M954.9,731.8h.01M1027.2,723.7h.01M951.6,736.6h.01M1011.6,723.9h.01M986.5,724.9h.01M916.4,782.6h.01M990.9,674.9h.01M950.1,701.7h.01M951.7,779.4h.01M997.9,754.2h.01M956.9,751.7h.01M991.8,718.0h.01M910.0,735.6h.01M983.0,773.8h.01M1008.9,718.2h.01M968.0,711.1h.01M925.9,743.1h.01M1016.5,734.5h.01M942.9,758.9h.01M1020.1,701.1h.01M935.8,734.8h.01M1022.8,708.1h.01M1001.2,722.1h.01M961.3,752.3h.01M987.7,678.7h.01M980.6,680.5h.01M933.4,735.9h.01M970.5,748.0h.01M1017.0,689.7h.01M956.6,749.3h.01M990.3,739.5h.01M938.3,777.1h.01M929.7,737.6h.01M1028.2,718.7h.01M971.3,693.9h.01M997.2,768.4h.01M979.2,690.5h.01M955.8,720.8h.01M1006.0,710.2h.01M935.9,758.9h.01M982.2,759.2h.01M1010.8,713.4h.01M991.3,680.8h.01M938.2,719.3h.01M1003.0,698.7h.01M945.9,709.8h.01M958.8,716.2h.01M959.1,695.1h.01M962.2,691.8h.01M984.6,691.2h.01M1021.8,743.2h.01M956.5,688.7h.01M1019.2,720.6h.01M989.8,720.8h.01M969.4,757.8h.01M1012.9,715.7h.01M1005.2,757.9h.01M934.5,741.6h.01M918.1,733.1h.01M979.1,694.6h.01M922.2,759.9h.01M954.8,698.4h.01M1002.0,758.6h.01M958.5,686.1h.01M979.4,743.6h.01M944.1,714.3h.01M937.5,713.9h.01M950.6,732.7h.01M983.7,744.1h.01M1007.2,688.5h.01M943.8,722.4h.01M929.6,775.0h.01M977.5,712.9h.01M957.8,698.1h.01M936.8,764.3h.01M937.0,747.3h.01M997.7,755.8h.01M951.4,730.7h.01M931.4,742.4h.01M996.6,679.1h.01M954.4,765.8h.01M981.4,727.0h.01M985.4,706.9h.01M1020.4,766.9h.01M1012.7,758.8h.01M998.2,690.0h.01M1024.2,714.7h.01M957.8,727.5h.01M976.6,690.7h.01M1009.9,692.0h.01M968.9,734.6h.01M970.1,762.7h.01M1018.0,751.6h.01M1025.6,702.5h.01M994.1,729.5h.01M999.2,735.5h.01M990.8,741.6h.01M999.7,728.6h.01M994.7,747.5h.01M929.5,779.4h.01M949.9,766.6h.01M994.1,719.9h.01M936.3,773.2h.01M991.5,693.8h.01M982.5,685.2h.01M1012.1,761.4h.01M992.3,762.0h.01M1020.2,716.9h.01M958.5,748.3h.01M952.8,738.6h.01M1011.3,690.5h.01M1021.2,709.5h.01M1001.3,698.8h.01M965.2,716.3h.01M994.1,714.5h.01M930.1,731.9h.01M964.7,730.6h.01M940.1,713.7h.01M1024.4,701.2h.01M1026.8,725.9h.01M1023.6,732.5h.01M1011.2,752.0h.01M981.9,696.6h.01M999.7,745.0h.01M992.2,769.7h.01M958.6,776.3h.01M974.1,711.0h.01M946.9,780.3h.01M931.0,770.4h.01M1011.5,687.8h.01M928.5,743.2h.01M1009.3,722.5h.01M1012.8,767.1h.01M945.8,760.9h.01M1002.4,732.2h.01M986.8,736.7h.01M920.3,724.1h.01M1002.4,677.7h.01M941.4,722.8h.01M932.5,764.7h.01M951.5,699.4h.01M1003.3,753.4h.01M919.8,761.9h.01M975.7,758.0h.01M937.2,780.0h.01M1012.1,765.7h.01M993.1,747.2h.01M992.4,774.9h.01M999.7,681.5h.01M942.2,766.9h.01M1011.1,744.2h.01M1020.3,703.4h.01M961.1,683.9h.01M953.1,691.2h.01M910.5,740.8h.01M962.9,755.4h.01M987.6,741.2h.01M994.5,765.6h.01M922.5,743.4h.01M944.7,780.5h.01M1017.4,761.3h.01M1000.0,775.3h.01M994.4,727.8h.01M931.1,761.2h.01M971.2,731.2h.01M1016.3,697.0h.01M949.7,714.4h.01M912.7,728.6h.01M944.6,767.7h.01M1001.5,752.9h.01M1012.4,753.2h.01M978.7,704.7h.01M984.9,765.6h.01M945.2,774.0h.01M948.8,758.0h.01M1007.6,699.6h.01M1003.2,692.2h.01M931.7,759.5h.01M984.2,700.4h.01M1009.1,752.0h.01M923.9,770.8h.01M1016.3,715.4h.01M914.5,751.9h.01M941.3,777.3h.01M991.2,777.7h.01M991.2,722.3h.01M918.8,726.6h.01M1000.9,734.6h.01M994.2,688.6h.01M928.6,782.0h.01M920.1,765.5h.01M972.0,699.2h.01M921.3,775.3h.01M974.0,741.0h.01M968.4,688.2h.01M943.1,728.9h.01M1010.8,684.7h.01M1002.3,695.9h.01M923.6,738.4h.01M1016.2,709.8h.01M1014.1,738.0h.01M1003.6,757.3h.01M917.1,763.2h.01M969.7,684.2h.01M978.5,737.3h.01M981.0,769.8h.01M920.0,742.1h.01M984.6,717.8h.01M932.2,723.6h.01M950.7,722.1h.01M1004.0,695.7h.01M1016.4,688.0h.01M948.6,706.2h.01M929.6,750.6h.01M994.0,777.2h.01M981.5,729.9h.01M977.1,740.5h.01M1025.1,731.7h.01M997.3,746.3h.01M989.7,758.5h.01M971.2,692.2h.01M960.1,748.6h.01M994.7,723.2h.01M1020.7,733.3h.01M975.2,730.3h.01M1003.6,718.3h.01M925.9,729.8h.01M980.1,697.9h.01M928.8,726.0h.01M917.7,739.4h.01M1006.2,753.4h.01M1000.0,719.1h.01M1002.2,709.1h.01M973.6,745.9h.01M923.5,779.1h.01M1007.3,743.8h.01M937.9,726.3h.01M978.0,709.2h.01M927.2,780.1h.01M917.6,744.6h.01M914.6,754.2h.01M958.5,709.9h.01M971.4,773.3h.01M984.0,694.6h.01M938.5,781.1h.01M934.5,746.9h.01M951.0,696.3h.01M949.9,772.0h.01M988.4,676.2h.01M957.6,731.5h.01M962.7,710.7h.01M951.8,759.4h.01M982.1,781.7h.01M985.3,735.0h.01M977.8,679.5h.01M1004.8,698.6h.01M1007.6,707.7h.01M1000.3,684.1h.01M925.1,735.4h.01M972.8,712.5h.01M911.4,775.0h.01M1013.7,691.7h.01M943.7,762.2h.01M956.2,741.1h.01M979.8,768.6h.01M923.6,734.2h.01M933.7,770.9h.01M994.3,701.1h.01M1016.5,744.5h.01M953.1,709.3h.01M1027.4,709.3h.01M985.3,751.2h.01M999.5,756.1h.01M976.3,704.3h.01M940.8,780.3h.01M974.4,672.2h.01M997.7,731.3h.01M982.8,698.7h.01M939.9,745.1h.01M990.7,765.8h.01M977.6,762.7h.01M995.7,769.1h.01M944.1,760.0h.01M996.2,774.6h.01M987.5,762.3h.01M996.0,770.9h.01M989.8,673.2h.01M986.2,722.6h.01M970.2,697.9h.01M951.5,770.9h.01M959.1,763.2h.01M913.2,747.8h.01M914.6,777.4h.01M1005.5,705.3h.01M941.2,709.2h.01M990.4,715.8h.01M973.4,743.4h.01M978.2,692.2h.01M1013.2,696.1h.01M991.5,737.3h.01M1019.8,752.2h.01M942.7,723.8h.01M978.2,757.0h.01M921.0,782.3h.01M1016.7,742.4h.01M973.9,772.0h.01M923.6,766.8h.01M969.1,709.0h.01M988.9,700.6h.01M998.8,769.2h.01M912.5,740.8h.01M949.3,716.2h.01M925.3,727.2h.01M1017.6,723.7h.01M947.2,773.6h.01M939.9,715.9h.01M984.2,758.0h.01M989.4,770.4h.01M966.2,766.8h.01M915.3,748.5h.01M974.5,756.3h.01M967.4,770.4h.01M1023.9,748.7h.01M1023.0,755.7h.01M915.6,769.8h.01M936.2,776.8h.01M964.8,768.0h.01M922.2,772.2h.01M944.9,724.9h.01M914.7,780.8h.01M1001.7,747.0h.01M1010.4,701.4h.01M973.8,736.9h.01M928.6,772.1h.01M980.3,684.1h.01M939.5,762.6h.01M968.5,697.5h.01M939.1,721.6h.01M935.1,763.6h.01M988.5,733.2h.01M931.6,746.2h.01M991.9,686.9h.01M975.3,768.6h.01M1013.1,706.1h.01M961.3,732.8h.01M919.8,751.2h.01M946.2,728.9h.01M941.3,773.7h.01M1019.1,691.3h.01M963.6,771.1h.01M932.5,728.3h.01M951.7,716.9h.01M965.9,709.1h.01M976.3,760.5h.01M991.5,691.4h.01M1010.7,719.9h.01M922.7,736.6h.01M989.7,773.3h.01M950.8,727.3h.01M980.9,771.8h.01M996.0,702.4h.01M1013.5,722.6h.01M970.6,676.3h.01M1002.5,739.0h.01M950.3,754.9h.01M978.4,676.4h.01M920.5,728.5h.01M970.6,705.7h.01M992.6,741.3h.01M983.3,766.6h.01M975.9,748.1h.01M1014.1,756.3h.01M954.9,780.1h.01M981.6,703.9h.01M930.7,718.5h.01M1004.7,722.2h.01M1006.9,749.4h.01M965.3,736.9h.01M977.1,700.8h.01M931.5,778.5h.01M947.1,724.7h.01M1002.1,717.2h.01M972.8,775.8h.01M984.1,733.7h.01M964.1,722.7h.01M1040.6,683.3h.01M991.0,640.4h.01M1020.6,652.5h.01M1029.2,736.6h.01M980.3,665.5h.01M1051.6,649.7h.01M993.5,630.3h.01M1001.0,670.9h.01M1061.8,672.2h.01M973.4,651.9h.01M1029.6,658.7h.01M1055.4,705.6h.01M985.4,665.3h.01M1064.2,678.5h.01M1032.7,703.7h.01M1065.3,687.1h.01M1032.9,689.1h.01M1021.6,629.0h.01M1002.4,655.3h.01M968.5,635.4h.01M988.5,661.1h.01M1012.4,650.7h.01M1014.2,670.0h.01M1064.8,685.3h.01M1008.3,675.5h.01M1064.3,676.3h.01M1033.6,701.9h.01M1037.8,718.9h.01M1031.7,743.3h.01M1051.8,676.3h.01M1038.9,678.0h.01M1037.2,640.8h.01M1054.1,718.9h.01M993.0,663.9h.01M1033.0,738.8h.01M1012.5,680.9h.01M1043.7,710.8h.01M1025.0,693.8h.01M1028.4,650.5h.01M1052.4,699.1h.01M1003.0,638.3h.01M1053.8,670.8h.01M1042.4,714.6h.01M1050.2,688.9h.01M1036.2,679.8h.01M1065.0,662.0h.01M1036.1,744.6h.01M1005.6,668.1h.01M1034.4,636.4h.01M988.3,636.6h.01M1033.1,639.8h.01M986.3,632.2h.01M991.9,645.3h.01M984.4,652.4h.01M1052.0,723.0h.01M1036.3,659.3h.01M1034.6,663.8h.01M997.2,634.1h.01M1030.0,685.2h.01M993.8,627.6h.01M1037.0,689.1h.01M1032.1,687.7h.01M1045.6,697.5h.01M1055.8,700.9h.01M1057.5,675.8h.01M1055.3,681.5h.01M1058.1,706.4h.01M1025.0,635.2h.01M1000.1,640.9h.01M985.1,654.0h.01M977.6,638.2h.01M1058.7,709.4h.01M1003.0,652.6h.01M1047.2,726.6h.01M977.0,666.0h.01M1041.0,660.4h.01M1015.4,643.9h.01M1049.4,669.7h.01M1018.3,680.3h.01M980.0,637.4h.01M1059.0,679.9h.01M1028.2,631.4h.01M1009.8,629.9h.01M986.2,643.1h.01M987.7,649.3h.01M989.0,659.2h.01M995.4,672.4h.01M981.7,631.4h.01M1024.3,683.4h.01M1008.3,670.0h.01M1008.1,633.7h.01M1054.0,694.7h.01M1011.0,657.9h.01M1043.1,728.6h.01M964.9,641.2h.01M1041.0,703.1h.01M1006.2,670.2h.01M1030.4,725.3h.01M997.4,642.2h.01M1026.7,660.6h.01M981.8,639.9h.01M1062.1,690.1h.01M1005.2,654.5h.01M1032.8,637.9h.01M1000.3,637.2h.01M1045.0,740.1h.01M1007.4,637.1h.01M981.7,629.5h.01M1044.6,676.0h.01M1051.0,728.5h.01M1022.1,668.5h.01M989.1,647.6h.01M992.8,640.1h.01M1040.6,696.0h.01M1006.8,674.4h.01M1014.1,656.6h.01M1060.6,653.8h.01M1024.5,670.8h.01M1056.7,669.0h.01M1038.2,722.8h.01M1026.0,699.4h.01M1046.4,699.7h.01M1055.3,665.9h.01M1021.2,686.0h.01M1012.0,644.3h.01M1049.4,666.9h.01M979.3,657.4h.01M1002.6,648.9h.01M1044.7,644.1h.01M1045.1,689.7h.01M1033.3,709.9h.01M1050.1,661.8h.01M1057.0,667.1h.01M998.8,671.8h.01M1038.6,643.0h.01M1004.7,645.5h.01M1035.2,731.6h.01M1030.5,662.9h.01M1030.5,733.4h.01M998.5,623.6h.01M976.8,664.3h.01M975.4,658.1h.01M1002.3,657.1h.01M1014.0,649.0h.01M1062.0,658.3h.01M1045.3,718.3h.01M1014.2,667.5h.01M993.4,650.1h.01M1040.1,705.7h.01M1013.6,637.6h.01M997.4,644.4h.01M995.1,636.4h.01M1020.4,659.6h.01M1019.5,684.4h.01M1037.5,746.8h.01M1033.7,726.9h.01M1029.3,696.3h.01M1036.7,644.5h.01M1047.4,713.1h.01M973.8,646.7h.01M1053.0,674.4h.01M996.4,645.8h.01M1056.5,658.5h.01M992.1,638.4h.01M998.5,627.5h.01M992.0,654.1h.01M1034.1,648.3h.01M1042.3,697.1h.01M979.0,644.7h.01M1021.6,640.2h.01M1034.3,743.4h.01M996.1,626.0h.01M1056.6,697.3h.01M1036.6,705.0h.01M1059.1,663.0h.01M1024.8,676.0h.01M1043.5,719.2h.01M1065.7,675.2h.01M1012.9,674.5h.01M1031.8,654.3h.01M1060.7,700.9h.01M989.2,668.3h.01M1015.3,632.6h.01M981.8,636.3h.01M1052.7,656.3h.01M982.6,652.9h.01M1029.2,683.8h.01M999.8,646.9h.01M1039.6,727.3h.01M1050.4,711.7h.01M1055.5,672.4h.01M1015.4,659.3h.01M1039.9,742.1h.01M995.8,623.8h.01M1017.1,673.9h.01M1028.2,687.1h.01M1049.3,694.6h.01M1047.8,690.2h.01M1026.4,670.2h.01M1002.2,646.6h.01M1014.5,675.7h.01M997.8,660.6h.01M1047.6,685.0h.01M1053.3,705.4h.01M1014.3,678.4h.01M1041.5,668.5h.01M1029.8,703.2h.01M1008.9,646.2h.01M975.8,638.0h.01M1012.8,632.4h.01M1037.7,696.6h.01M1055.1,689.5h.01M1043.6,646.4h.01M1043.4,661.3h.01M1037.5,634.5h.01M1057.8,689.1h.01M987.0,630.2h.01M1039.5,674.9h.01M1046.5,673.5h.01M994.2,660.2h.01M1035.1,701.2h.01M1054.9,674.3h.01M1050.3,722.0h.01M1049.4,713.9h.01M1037.5,701.9h.01M1045.0,725.4h.01M975.6,635.9h.01M1029.0,716.7h.01M999.2,638.5h.01M1049.8,672.4h.01M1023.0,679.9h.01M1034.3,707.6h.01M995.0,647.7h.01M988.5,663.8h.01M997.2,636.6h.01M1031.7,679.4h.01M1001.3,658.7h.01M1045.3,737.2h.01M1027.0,643.4h.01M1014.3,681.8h.01M1058.4,697.6h.01M1058.8,690.7h.01M989.8,643.7h.01M1029.0,665.6h.01M1055.0,653.8h.01M978.1,647.4h.01M1005.2,648.8h.01M1031.8,674.9h.01M1030.5,714.9h.01M1041.3,677.9h.01M1049.5,658.0h.01M1059.7,693.1h.01M998.1,664.2h.01M1066.2,682.2h.01M1005.7,663.9h.01M1043.2,663.2h.01M1017.6,652.8h.01M931.1,696.9h.01M929.0,702.8h.01M945.0,679.7h.01M955.2,678.3h.01M954.1,674.5h.01M925.1,701.9h.01M936.0,689.4h.01M951.9,664.7h.01M962.0,673.1h.01M948.2,688.1h.01M945.7,699.6h.01M911.5,727.9h.01M937.2,671.5h.01M946.1,685.0h.01M956.0,684.4h.01M909.6,719.7h.01M905.5,712.5h.01M907.0,710.5h.01M918.2,713.9h.01M941.8,670.8h.01M912.8,726.9h.01M935.5,686.9h.01M940.3,664.2h.01M906.8,725.4h.01M946.3,691.8h.01M949.7,667.2h.01M951.8,684.2h.01M904.9,722.2h.01M912.7,722.5h.01M922.7,710.7h.01M932.3,693.9h.01M921.8,716.8h.01M906.1,717.8h.01M944.0,683.5h.01M955.7,672.3h.01M954.1,667.6h.01M920.0,703.9h.01M935.6,683.6h.01M941.1,674.7h.01M954.2,687.9h.01M944.6,691.6h.01M913.5,720.8h.01M947.5,677.1h.01M948.4,661.8h.01M946.9,680.8h.01M924.1,714.8h.01M956.3,673.8h.01M914.4,725.7h.01M932.0,709.4h.01M952.1,669.1h.01M908.8,724.0h.01M945.3,666.2h.01M912.4,679.0h.01M927.0,684.0h.01M896.6,699.0h.01M893.0,705.0h.01M897.0,711.0h.01M905.0,734.4h.01M1029.6,763.0h.01M1007.4,775.6h.01M641.1,705.7h.01M648.0,666.6h.01M611.3,647.2h.01M610.3,694.6h.01M640.9,693.5h.01M612.5,683.9h.01M602.8,672.0h.01M639.5,701.7h.01M634.9,657.2h.01M619.8,649.3h.01M607.2,690.0h.01M605.9,688.6h.01M609.0,654.6h.01M621.7,668.7h.01M608.6,682.1h.01M620.5,645.7h.01M651.9,683.8h.01M638.6,708.8h.01M648.8,669.9h.01M628.8,666.0h.01M602.9,684.5h.01M622.9,681.4h.01M625.2,684.5h.01M636.3,697.3h.01M637.4,684.9h.01M616.0,676.8h.01M617.2,678.4h.01M622.0,660.6h.01M598.7,657.3h.01M639.1,698.6h.01M626.8,697.2h.01M641.8,671.8h.01M632.8,707.9h.01M627.1,685.2h.01M615.7,661.0h.01M642.7,660.3h.01M623.3,689.9h.01M606.4,666.0h.01M617.0,657.0h.01M619.6,705.2h.01M642.2,674.3h.01M625.3,656.3h.01M650.5,690.5h.01M625.4,660.1h.01M651.3,685.9h.01M647.5,706.8h.01M637.5,701.6h.01M630.8,676.5h.01M629.4,703.8h.01M653.8,681.6h.01M636.2,667.4h.01M612.3,663.4h.01M626.8,673.5h.01M629.3,684.2h.01M605.2,664.4h.01M657.0,688.9h.01M645.3,674.0h.01M611.4,699.1h.01M607.7,676.3h.01M639.8,679.2h.01M616.7,652.7h.01M619.4,679.3h.01M637.9,676.1h.01M615.5,671.6h.01M630.0,689.0h.01M631.3,682.0h.01M638.1,662.7h.01M596.7,679.4h.01M626.5,671.5h.01M641.2,688.7h.01M609.8,659.6h.01M599.2,649.3h.01M648.8,662.1h.01M642.1,677.0h.01M626.8,678.8h.01M617.1,660.0h.01M608.9,693.7h.01M626.5,664.7h.01M607.0,692.0h.01M621.6,677.3h.01M603.5,645.8h.01M595.2,670.0h.01M644.8,683.1h.01M601.5,661.7h.01M627.5,700.0h.01M629.6,667.9h.01M622.4,700.3h.01M601.3,668.5h.01M621.7,648.9h.01M630.1,654.1h.01M645.5,686.8h.01M646.8,665.3h.01M641.5,682.1h.01M602.4,651.8h.01M636.7,695.2h.01M639.1,660.8h.01M602.0,655.3h.01M618.4,658.9h.01M615.1,679.7h.01M647.9,677.1h.01M651.2,677.1h.01M639.3,656.3h.01M611.3,671.6h.01M611.2,661.1h.01M600.5,647.3h.01M643.3,668.0h.01M640.6,667.1h.01M641.9,700.7h.01M633.9,679.7h.01M609.7,662.7h.01M650.1,688.9h.01M645.2,680.8h.01M646.3,676.4h.01M605.4,698.8h.01M634.9,699.4h.01M615.3,694.8h.01M609.3,658.1h.01M624.5,652.9h.01M630.9,698.2h.01M615.1,666.6h.01M655.7,690.2h.01M595.4,677.6h.01M656.4,686.8h.01M623.1,705.6h.01M623.9,672.0h.01M602.8,696.9h.01M596.4,671.9h.01M605.3,645.5h.01M634.1,688.5h.01M641.6,658.4h.01M614.9,647.7h.01M639.2,677.6h.01M633.8,662.7h.01M620.5,675.8h.01M653.3,691.1h.01M606.7,684.6h.01M601.1,697.3h.01M623.3,654.3h.01M613.3,660.1h.01M604.7,648.2h.01M611.6,685.3h.01M604.4,690.0h.01M641.9,686.3h.01M614.9,689.6h.01M607.7,650.2h.01M639.6,704.4h.01M604.2,696.1h.01M625.7,702.1h.01M633.2,659.1h.01M636.4,660.6h.01M603.7,663.6h.01M632.3,666.2h.01M604.6,666.4h.01M603.0,665.8h.01M613.9,672.0h.01M594.7,680.6h.01M630.9,703.1h.01M626.7,692.6h.01M636.8,665.0h.01M609.9,685.5h.01M645.5,677.9h.01M644.6,664.4h.01M623.9,659.1h.01M633.3,703.2h.01M617.3,685.9h.01M627.2,651.6h.01M640.0,663.1h.01M617.0,672.1h.01M605.3,651.9h.01M617.3,674.3h.01M598.5,668.8h.01M629.6,696.9h.01M608.8,690.4h.01M595.9,666.5h.01M620.2,647.7h.01M619.4,654.5h.01M614.4,702.2h.01M607.2,701.0h.01M625.2,647.7h.01M632.9,678.1h.01M605.7,657.5h.01M625.1,706.9h.01M622.1,703.1h.01M614.0,662.6h.01M630.2,663.4h.01M611.4,669.7h.01M643.3,681.1h.01M613.3,665.7h.01M617.8,705.1h.01M603.9,656.1h.01M612.8,689.5h.01M618.2,662.6h.01M619.2,686.2h.01M641.7,662.6h.01M635.7,662.4h.01M643.5,708.0h.01M640.4,699.6h.01M629.4,699.0h.01M612.5,652.5h.01M599.9,669.8h.01M621.0,670.3h.01M630.6,660.4h.01M614.2,700.2h.01M624.8,678.6h.01M615.5,654.5h.01M620.2,666.1h.01M597.3,675.0h.01M647.5,681.2h.01M625.4,694.5h.01M634.8,684.2h.01M606.3,668.5h.01M649.7,683.1h.01M612.1,649.8h.01M635.9,692.2h.01M611.0,677.6h.01M644.0,676.6h.01M616.9,690.3h.01M634.7,690.2h.01M605.6,662.4h.01M610.2,682.9h.01M628.4,669.8h.01M600.5,666.4h.01M652.0,680.0h.01M655.0,684.0h.01M658.0,687.0h.01M659.0,690.0h.01M654.0,691.0h.01M650.0,687.0h.01M648.0,683.6h.01M675.1,725.4h.01M670.3,725.6h.01M672.9,725.4h.01M670.9,727.4h.01M666.9,703.6h.01M673.7,710.1h.01M669.5,710.5h.01M666.9,698.9h.01M669.2,715.4h.01M673.7,713.2h.01M673.7,726.8h.01M664.0,697.1h.01M672.7,703.3h.01M678.0,718.6h.01M678.9,735.0h.01M673.6,706.0h.01M671.8,711.9h.01M671.6,719.1h.01M660.0,697.6h.01M668.7,699.1h.01M673.5,723.7h.01M673.1,730.9h.01M661.9,699.6h.01M669.5,703.3h.01M670.3,700.9h.01M676.2,715.7h.01M674.0,729.3h.01M657.8,698.5h.01M669.9,712.3h.01M677.6,724.3h.01M675.3,709.5h.01M666.7,716.1h.01M678.7,732.6h.01M672.0,709.2h.01M675.5,727.4h.01M676.6,720.1h.01M680.3,733.1h.01M669.5,708.2h.01M677.8,726.5h.01M662.7,701.1h.01M679.3,719.6h.01M671.2,717.1h.01M676.3,708.3h.01M670.4,722.9h.01M677.7,728.4h.01M651.0,708.0h.01M652.0,711.0h.01M657.0,706.0h.01M658.0,713.0h.01M660.0,713.0h.01M595.6,719.4h.01M596.0,722.0h.01M725.0,722.6h.01M729.0,719.0h.01M732.0,723.0h.01M734.0,718.6h.01M737.0,718.0h.01M571.6,758.0h.01M577.0,752.6h.01M578.4,756.4h.01M586.0,739.4h.01M583.6,743.0h.01M581.4,746.0h.01M552.0,790.0h.01M552.6,791.6h.01M552.0,793.6h.01M600.6,778.0h.01M613.0,778.0h.01M609.0,781.0h.01M608.0,783.0h.01M611.0,785.6h.01M750.0,792.0h.01M752.0,793.0h.01M747.0,796.0h.01M745.0,800.0h.01M610.0,840.0h.01M612.0,841.6h.01M604.0,844.0h.01M607.0,847.0h.01M611.0,848.0h.01M611.6,852.0h.01M613.0,857.0h.01M614.4,859.0h.01M573.5,774.2h.01M570.8,777.8h.01M563.9,773.5h.01M562.4,781.9h.01M543.1,764.8h.01M576.7,776.8h.01M551.1,778.4h.01M562.5,775.9h.01M574.7,769.3h.01M564.8,782.6h.01M571.6,779.3h.01M580.3,772.4h.01M541.7,766.2h.01M572.1,769.7h.01M544.8,769.6h.01M555.8,781.4h.01M561.3,780.5h.01M551.1,764.2h.01M579.6,769.0h.01M577.0,763.9h.01M558.9,771.2h.01M547.6,767.7h.01M556.0,763.0h.01M565.2,770.2h.01M549.9,768.3h.01M564.3,777.5h.01M571.9,774.4h.01M547.3,773.6h.01M552.9,776.2h.01M576.2,770.6h.01M545.7,777.8h.01M554.2,767.7h.01M549.7,762.3h.01M572.5,772.6h.01M574.6,779.5h.01M543.0,769.1h.01M551.9,772.9h.01M551.8,762.0h.01M551.4,780.7h.01M563.1,766.3h.01M565.0,765.0h.01M560.3,781.8h.01M561.5,763.9h.01M549.3,776.8h.01M544.2,777.0h.01M554.3,774.7h.01M544.3,778.8h.01M558.7,778.1h.01M557.1,764.9h.01M542.4,771.5h.01M570.5,773.6h.01M551.6,768.5h.01M558.0,779.8h.01M556.5,778.6h.01M539.6,770.3h.01M569.6,771.0h.01M561.9,768.9h.01M570.6,775.9h.01M559.0,776.1h.01M557.6,768.0h.01M569.5,782.3h.01M548.0,764.4h.01M548.6,779.3h.01M566.8,772.2h.01M576.0,767.4h.01M543.5,763.2h.01M542.0,774.9h.01M549.6,770.8h.01M544.4,772.9h.01M555.8,767.2h.01M560.6,769.8h.01M561.8,777.6h.01M566.4,780.7h.01M559.6,764.2h.01M545.1,780.8h.01M545.9,762.6h.01M562.3,772.8h.01M545.1,767.4h.01M556.9,775.9h.01M553.3,765.9h.01M579.1,766.8h.01M559.0,766.9h.01M578.0,774.5h.01M549.0,781.6h.01M545.6,775.8h.01M554.5,780.3h.01M566.9,767.4h.01M577.6,769.7h.01M560.8,766.8h.01M563.5,769.3h.01M554.5,771.5h.01M561.3,784.7h.01M548.5,775.2h.01M569.2,778.9h.01M546.2,766.2h.01M571.1,782.0h.01M548.2,766.1h.01M558.3,769.6h.01M566.2,774.6h.01M563.7,771.8h.01M341.7,768.4h.01M324.8,759.3h.01M337.8,750.1h.01M350.7,722.5h.01M354.6,766.9h.01M363.0,752.3h.01M322.1,769.9h.01M336.1,773.6h.01M317.2,786.0h.01M340.6,740.4h.01M362.3,799.6h.01M331.9,767.4h.01M308.2,793.4h.01M374.7,757.3h.01M360.4,758.3h.01M339.8,727.4h.01M328.7,778.5h.01M344.2,786.2h.01M379.2,770.1h.01M322.4,736.9h.01M318.4,789.4h.01M383.0,782.2h.01M330.1,772.5h.01M312.6,780.6h.01M386.2,792.3h.01M344.9,780.9h.01M378.9,775.2h.01M367.1,794.0h.01M367.7,787.1h.01M343.0,736.4h.01M352.0,787.5h.01M349.4,734.9h.01M317.6,774.3h.01M378.5,780.3h.01M348.0,800.8h.01M346.6,729.5h.01M353.9,745.7h.01M366.5,770.0h.01M366.1,755.9h.01M346.1,747.5h.01M319.7,784.8h.01M357.3,732.1h.01M359.6,794.7h.01M319.8,761.5h.01M321.9,744.6h.01M381.9,775.1h.01M339.8,775.5h.01M333.9,765.8h.01M365.2,794.0h.01M370.5,745.9h.01M325.9,769.2h.01M348.3,755.9h.01M326.9,765.8h.01M350.2,756.5h.01M353.4,762.4h.01M328.8,756.5h.01M345.2,761.5h.01M324.5,752.6h.01M329.1,750.4h.01M329.8,727.8h.01M326.4,748.7h.01M318.2,795.5h.01M359.5,800.7h.01M357.7,796.2h.01M327.9,763.3h.01M330.4,760.2h.01M328.5,781.0h.01M353.9,797.9h.01M372.4,769.1h.01M321.4,799.5h.01M341.8,746.3h.01M357.5,766.2h.01M331.9,756.7h.01M319.1,750.2h.01M344.5,772.0h.01M379.2,786.4h.01M349.2,737.8h.01M362.7,777.2h.01M347.9,788.6h.01M352.5,741.2h.01M341.4,718.3h.01M347.0,760.0h.01M319.9,775.5h.01M329.6,798.6h.01M345.3,759.8h.01M324.0,748.0h.01M325.9,774.3h.01M338.5,760.8h.01M342.7,764.3h.01M317.5,776.8h.01M320.0,757.4h.01M321.4,739.4h.01M386.3,790.1h.01M337.1,738.7h.01M333.4,748.1h.01M347.5,734.6h.01M375.8,793.1h.01M336.5,766.3h.01M332.0,770.6h.01M336.4,725.6h.01M339.9,766.3h.01M320.5,736.9h.01M312.2,794.9h.01M379.7,795.6h.01M340.9,734.5h.01M329.7,800.9h.01M352.6,777.2h.01M325.5,778.9h.01M375.9,799.3h.01M363.7,784.5h.01M344.6,728.1h.01M321.4,789.7h.01M375.0,785.4h.01M326.3,741.3h.01M346.5,779.1h.01M347.6,763.3h.01M324.4,780.4h.01M338.6,792.4h.01M346.0,743.0h.01M346.0,788.1h.01M353.9,754.9h.01M362.4,749.6h.01M352.4,782.9h.01M357.8,755.7h.01M381.2,786.5h.01M384.2,779.5h.01M340.9,760.7h.01M331.9,730.6h.01M354.3,800.8h.01M343.5,733.0h.01M376.7,769.0h.01M332.4,758.9h.01M361.7,745.8h.01M356.1,773.2h.01M349.7,743.7h.01M346.8,738.5h.01M364.4,801.1h.01M356.9,798.2h.01M359.4,733.3h.01M380.3,791.2h.01M361.1,787.4h.01M354.7,757.7h.01M324.7,731.0h.01M338.7,772.3h.01M351.6,771.5h.01M315.7,771.4h.01M347.1,775.5h.01M323.8,776.7h.01M360.4,738.8h.01M347.3,746.3h.01M321.2,766.7h.01M352.0,755.1h.01M319.5,747.6h.01M347.9,780.7h.01M358.9,777.2h.01M361.6,793.4h.01M337.9,730.4h.01M376.5,779.4h.01M335.3,728.4h.01M364.4,780.8h.01M332.1,737.8h.01M364.6,742.6h.01M336.7,723.4h.01M371.4,785.1h.01M333.2,780.4h.01M345.0,752.6h.01M311.9,798.9h.01M308.2,786.4h.01M356.8,789.2h.01M358.5,778.8h.01M324.1,762.6h.01M319.0,783.1h.01M318.3,801.4h.01M323.1,740.4h.01M370.7,781.4h.01M322.4,787.0h.01M357.8,785.7h.01M357.7,794.2h.01M356.8,745.4h.01M348.9,797.3h.01M330.1,769.9h.01M320.6,742.0h.01M347.6,757.7h.01M319.9,771.2h.01M315.1,791.8h.01M365.2,749.3h.01M333.2,760.9h.01M348.4,749.5h.01M378.6,791.0h.01M331.4,728.7h.01M354.4,786.0h.01M324.0,750.9h.01M325.9,757.7h.01M347.0,773.3h.01M354.7,777.9h.01M341.5,752.9h.01M363.3,740.8h.01M369.6,784.8h.01M353.6,775.4h.01M342.5,739.0h.01M309.9,796.2h.01M360.6,780.5h.01M337.7,789.3h.01M358.8,770.5h.01M343.7,782.9h.01M344.9,749.8h.01M343.2,773.3h.01M322.1,778.2h.01M318.3,760.4h.01M350.9,733.7h.01M374.2,775.6h.01M352.3,724.0h.01M382.5,777.9h.01M329.1,730.7h.01M364.8,789.7h.01M367.1,781.1h.01M323.2,742.6h.01M376.1,762.3h.01M345.4,733.0h.01M334.6,735.1h.01M366.1,787.5h.01M380.5,789.2h.01M319.7,765.6h.01M331.1,785.3h.01M365.1,764.0h.01M320.0,794.6h.01M333.3,740.3h.01M367.9,800.0h.01M331.5,742.2h.01M370.3,747.5h.01M352.2,728.3h.01M367.8,747.5h.01M349.4,783.2h.01M307.0,795.9h.01M350.5,790.8h.01M369.8,798.4h.01M333.9,767.6h.01M380.4,779.1h.01M333.7,786.6h.01M368.0,754.4h.01M334.0,757.4h.01M316.3,766.4h.01M377.4,784.5h.01M344.4,738.9h.01M336.5,803.7h.01M385.4,841.6h.01M358.6,828.1h.01M344.3,817.4h.01M327.4,837.2h.01M363.3,811.5h.01M331.0,820.1h.01M329.5,809.6h.01M354.1,806.3h.01M326.3,841.8h.01M321.9,836.2h.01M363.1,827.7h.01M355.4,804.5h.01M357.9,847.3h.01M298.6,841.9h.01M390.9,815.1h.01M354.4,816.8h.01M341.4,805.6h.01M386.1,808.0h.01M319.2,849.7h.01M311.1,813.3h.01M310.6,832.3h.01M378.7,834.0h.01M310.6,848.0h.01M321.1,822.6h.01M348.4,852.2h.01M343.5,830.1h.01M346.9,803.9h.01M302.3,805.6h.01M324.2,807.0h.01M339.3,804.5h.01M372.4,803.8h.01M305.9,858.2h.01M324.0,814.3h.01M333.8,862.1h.01M358.4,805.4h.01M387.1,819.7h.01M289.2,818.8h.01M289.3,824.7h.01M324.4,835.6h.01M330.5,842.9h.01M340.7,850.1h.01M334.8,816.4h.01M315.5,804.0h.01M353.0,841.1h.01M297.6,840.6h.01M389.1,835.2h.01M329.7,852.2h.01M368.2,833.8h.01M336.2,811.8h.01M334.6,841.6h.01M336.1,852.3h.01M342.5,863.7h.01M298.2,832.6h.01M332.8,819.4h.01M329.9,805.7h.01M327.2,828.6h.01M382.6,816.0h.01M347.1,844.0h.01M326.0,838.2h.01M315.5,811.1h.01M306.6,847.3h.01M326.2,856.5h.01M317.3,856.2h.01M360.9,804.8h.01M385.1,827.0h.01M333.2,858.5h.01M378.6,800.8h.01M331.1,813.0h.01M365.0,831.4h.01M343.8,808.0h.01M316.2,831.2h.01M381.2,842.7h.01M379.2,848.2h.01M336.8,844.5h.01M355.1,828.1h.01M360.6,816.9h.01M387.6,809.8h.01M321.2,846.4h.01M320.5,818.1h.01M298.1,838.6h.01M300.9,827.2h.01M349.4,844.7h.01M374.1,832.2h.01M338.4,839.1h.01M332.4,827.7h.01M384.8,837.2h.01M313.0,862.9h.01M384.5,820.1h.01M326.0,845.4h.01M389.4,828.8h.01M308.3,836.2h.01M366.9,848.0h.01M340.0,823.0h.01M287.3,822.6h.01M315.8,847.7h.01M349.3,858.9h.01M356.8,820.3h.01M322.4,821.6h.01M337.2,808.6h.01M296.3,837.2h.01M375.9,808.5h.01M353.0,858.0h.01M292.8,843.1h.01M325.9,823.2h.01M350.2,811.6h.01M367.5,835.8h.01M311.3,807.2h.01M299.5,813.3h.01M332.1,821.4h.01M321.4,840.9h.01M362.1,845.8h.01M393.7,820.5h.01M335.6,819.2h.01M356.2,810.4h.01M356.6,845.6h.01M314.1,826.1h.01M339.5,818.3h.01M358.7,839.8h.01M369.9,849.2h.01M300.5,808.9h.01M369.3,844.8h.01M392.0,812.3h.01M321.0,837.6h.01M358.7,824.1h.01M383.3,833.7h.01M299.3,810.7h.01M331.9,843.8h.01M307.5,852.9h.01M296.4,819.6h.01M373.9,830.1h.01M371.4,806.0h.01M365.2,814.4h.01M371.7,833.4h.01M306.0,850.7h.01M320.3,865.2h.01M340.3,813.6h.01M325.8,830.4h.01M332.1,823.5h.01M345.6,820.1h.01M381.4,835.6h.01M317.0,861.4h.01M361.2,840.1h.01M372.0,822.0h.01M306.9,819.2h.01M352.6,846.9h.01M336.6,815.0h.01M364.1,833.4h.01M327.3,863.3h.01M303.4,826.3h.01M387.3,812.4h.01M313.9,808.8h.01M380.2,836.8h.01M293.8,850.5h.01M356.2,856.6h.01M321.2,858.5h.01M325.7,819.2h.01M378.6,840.5h.01M352.7,829.6h.01M339.2,832.7h.01M358.7,816.0h.01M321.7,816.7h.01M370.2,818.4h.01M294.8,842.2h.01M351.0,813.2h.01M370.1,839.2h.01M311.7,858.9h.01M328.4,860.9h.01M326.3,805.0h.01M335.0,857.6h.01M374.8,800.5h.01M352.1,851.4h.01M390.3,823.9h.01M345.8,827.3h.01M326.3,807.6h.01M289.9,820.3h.01M360.2,810.4h.01M328.0,805.8h.01M319.1,814.0h.01M376.4,834.1h.01M310.7,852.4h.01M383.6,828.9h.01M340.8,820.3h.01M389.2,818.8h.01M297.8,854.2h.01M303.5,822.3h.01M335.2,835.2h.01M328.1,810.8h.01M320.8,824.7h.01M368.0,808.2h.01M301.7,822.7h.01M391.5,817.3h.01M316.3,817.6h.01M355.9,807.2h.01M333.9,839.8h.01M307.6,832.2h.01M294.6,818.2h.01M294.2,839.0h.01M335.2,837.7h.01M386.0,824.6h.01M306.1,842.8h.01M297.4,816.7h.01M386.9,805.0h.01M322.1,807.5h.01M345.0,859.1h.01M302.7,843.2h.01M379.2,825.8h.01M374.1,802.7h.01M359.9,814.9h.01M336.5,860.6h.01M305.1,831.5h.01M329.9,821.5h.01M367.7,830.2h.01M350.0,820.3h.01M308.4,814.0h.01M319.3,835.2h.01M377.6,810.0h.01M352.7,859.6h.01M345.1,823.2h.01M336.2,807.3h.01M348.6,809.3h.01M317.1,843.3h.01M316.5,823.1h.01M369.9,827.8h.01M313.3,846.9h.01M361.2,827.9h.01M309.0,856.2h.01M361.1,850.9h.01M323.9,818.1h.01M347.9,860.7h.01M301.2,832.8h.01M302.8,813.1h.01M315.6,812.8h.01M342.6,845.6h.01M327.4,843.7h.01M345.5,839.4h.01M344.8,852.0h.01M297.1,834.7h.01M329.2,812.4h.01M389.6,821.1h.01M328.2,866.2h.01M316.6,806.0h.01M370.3,803.1h.01M311.9,805.1h.01M348.3,863.8h.01M363.2,840.1h.01M314.3,844.5h.01M307.9,809.6h.01M348.9,857.0h.01M300.9,819.2h.01M343.3,805.0h.01M343.7,841.9h.01M343.8,861.8h.01M295.1,834.3h.01M359.3,841.9h.01M344.1,825.3h.01M351.6,855.3h.01M335.5,824.0h.01M318.2,805.2h.01M326.2,833.5h.01M355.5,837.5h.01M324.7,841.0h.01M355.6,843.5h.01M382.6,848.0h.01M389.2,802.6h.01M354.2,832.8h.01M324.3,843.7h.01M379.5,829.8h.01M309.5,859.2h.01M364.3,825.0h.01M338.8,835.2h.01M387.2,837.5h.01M374.7,816.8h.01M318.2,864.8h.01M347.7,817.9h.01M347.8,816.2h.01M332.9,816.1h.01M372.8,846.7h.01M296.8,811.8h.01M311.5,845.2h.01M334.6,831.8h.01M342.6,817.3h.01M354.7,834.8h.01M354.8,830.8h.01M333.2,850.9h.01M313.4,817.6h.01M330.0,861.5h.01M329.8,844.8h.01M327.6,820.1h.01M292.3,847.8h.01M370.2,807.5h.01M361.0,849.1h.01M322.5,839.6h.01M315.7,829.1h.01M321.1,820.6h.01M313.4,812.5h.01M307.4,821.9h.01M293.6,830.0h.01M344.8,844.1h.01M383.8,831.9h.01M331.8,810.3h.01M360.3,854.3h.01M365.0,821.4h.01M365.0,844.1h.01M341.7,861.5h.01M313.6,853.8h.01M313.1,835.6h.01M385.6,829.0h.01M376.3,806.4h.01M296.7,830.7h.01M383.0,800.4h.01M340.5,809.3h.01M357.9,853.6h.01M311.7,822.9h.01M355.2,848.5h.01M341.0,843.8h.01M354.0,820.5h.01M303.7,828.4h.01M291.1,843.6h.01M337.3,858.9h.01M329.3,832.9h.01M347.5,847.6h.01M305.5,813.9h.01M335.7,826.7h.01M323.2,846.8h.01M382.3,805.1h.01M308.6,840.0h.01M306.6,838.6h.01M348.6,841.0h.01M305.8,815.8h.01M368.0,825.5h.01M329.0,837.5h.01M314.5,849.6h.01M341.7,829.7h.01M356.3,816.9h.01M309.9,837.9h.01M327.1,822.0h.01M365.7,816.5h.01M345.5,854.0h.01M304.3,837.2h.01M367.6,818.7h.01M343.3,814.4h.01M327.4,803.8h.01M379.8,831.7h.01M355.4,802.4h.01M379.5,844.2h.01M297.4,850.2h.01M305.6,848.8h.01M316.3,808.9h.01M321.9,826.4h.01M371.9,842.4h.01M383.0,841.5h.01M361.8,821.2h.01M333.9,805.8h.01M344.8,846.4h.01M362.9,807.3h.01M362.3,831.6h.01M363.7,802.3h.01M377.8,844.4h.01M353.9,839.1h.01M328.2,847.6h.01M303.1,819.2h.01M310.8,818.0h.01M323.8,859.5h.01M322.6,830.0h.01M372.2,812.8h.01M303.4,832.6h.01M304.9,811.4h.01M365.2,807.1h.01M305.2,833.7h.01M366.2,828.1h.01M375.8,819.5h.01M311.7,854.9h.01M297.1,845.7h.01M375.1,804.9h.01M291.0,822.5h.01M307.4,841.7h.01M313.1,857.8h.01M325.0,849.0h.01M375.5,842.6h.01M342.4,835.1h.01M387.5,834.0h.01M351.5,827.1h.01M294.2,836.7h.01M344.9,863.9h.01M373.2,836.9h.01M337.6,818.4h.01M349.9,833.4h.01M299.2,848.8h.01M332.7,860.8h.01M391.6,827.0h.01M317.5,841.5h.01M360.3,856.8h.01M359.9,833.9h.01M390.9,833.7h.01M301.1,815.4h.01M339.0,812.2h.01M354.1,845.2h.01M351.4,805.1h.01M296.2,848.9h.01M332.4,838.4h.01M318.3,852.5h.01M299.1,815.0h.01M299.9,844.4h.01M379.8,816.0h.01M287.5,819.6h.01M396.6,809.1h.01M382.7,848.8h.01M395.7,822.3h.01M412.7,813.9h.01M403.9,807.4h.01M394.7,839.2h.01M388.4,840.3h.01M399.3,816.6h.01M393.7,830.3h.01M387.7,795.8h.01M401.8,812.8h.01M404.7,813.2h.01M394.2,794.7h.01M396.7,801.4h.01M384.4,798.7h.01M383.9,796.7h.01M405.2,815.1h.01M387.6,843.7h.01M411.2,810.6h.01M391.1,802.2h.01M410.5,809.0h.01M394.7,803.8h.01M399.4,802.8h.01M389.2,796.7h.01M399.8,805.1h.01M402.1,809.7h.01M393.5,802.1h.01M396.8,804.7h.01M388.2,799.4h.01M396.8,813.1h.01M390.7,844.9h.01M406.9,815.4h.01M394.1,819.3h.01M391.2,840.1h.01M389.3,794.3h.01M394.1,844.6h.01M396.2,827.8h.01M399.3,812.7h.01M409.5,816.4h.01M409.2,806.9h.01M407.6,805.5h.01M392.0,796.9h.01M390.6,795.3h.01M402.3,815.2h.01M405.7,807.6h.01M393.0,799.1h.01M385.2,794.4h.01M394.8,834.7h.01M391.3,836.3h.01M370.3,733.9h.01M382.1,729.8h.01M377.4,731.1h.01M384.8,738.2h.01M369.3,722.2h.01M379.6,729.6h.01M381.0,735.0h.01M386.6,735.4h.01M374.7,735.2h.01M379.8,737.1h.01M376.3,738.1h.01M371.1,724.7h.01M373.5,730.5h.01M363.1,726.1h.01M379.3,732.6h.01M400.0,767.0h.01M403.0,772.0h.01M404.0,778.0h.01M404.0,788.0h.01M409.0,794.4h.01M387.0,760.0h.01M381.4,764.4h.01M389.0,743.6h.01M381.0,748.6h.01M373.0,850.0h.01M379.6,858.0h.01M387.6,862.4h.01M347.6,868.0h.01M373.0,858.0h.01M386.0,855.0h.01M405.0,848.0h.01M448.3,840.4h.01M499.8,884.1h.01M448.0,843.8h.01M443.9,842.9h.01M496.4,883.0h.01M466.4,864.4h.01M460.1,853.5h.01M433.0,840.2h.01M499.5,876.5h.01M502.2,876.3h.01M427.0,833.5h.01M484.2,868.5h.01M491.3,876.4h.01M500.4,879.0h.01M499.4,868.3h.01M465.6,862.0h.01M444.1,837.3h.01M426.5,821.5h.01M475.3,854.2h.01M446.4,836.4h.01M476.3,870.3h.01M461.9,854.4h.01M501.0,886.3h.01M423.6,822.0h.01M487.1,864.7h.01M465.2,859.6h.01M485.7,875.2h.01M436.2,837.2h.01M482.5,873.2h.01M468.8,845.7h.01M440.0,835.3h.01M453.1,842.6h.01M438.6,833.6h.01M481.0,861.6h.01M494.5,877.7h.01M424.6,826.3h.01M480.5,857.8h.01M472.3,856.0h.01M435.6,847.1h.01M443.4,846.1h.01M482.1,856.3h.01M431.5,824.2h.01M476.1,862.4h.01M434.8,843.7h.01M473.2,846.7h.01M503.9,872.6h.01M485.4,863.2h.01M477.2,860.1h.01M495.1,868.6h.01M463.5,843.1h.01M438.2,830.5h.01M476.8,850.7h.01M428.6,826.5h.01M469.9,869.8h.01M441.5,832.3h.01M461.7,843.3h.01M476.3,856.9h.01M511.3,878.4h.01M459.3,851.1h.01M473.7,861.0h.01M440.5,847.8h.01M503.2,884.2h.01M496.7,880.1h.01M507.0,877.5h.01M478.5,854.3h.01M449.8,852.1h.01M474.4,856.1h.01M462.1,856.4h.01M494.3,871.8h.01M480.2,866.9h.01M471.8,864.5h.01M489.3,874.6h.01M462.8,864.0h.01M452.9,850.8h.01M440.9,839.4h.01M447.8,848.3h.01M430.6,837.9h.01M457.1,839.5h.01M425.0,822.9h.01M489.6,871.3h.01M502.2,874.5h.01M465.3,843.1h.01M472.4,867.4h.01M432.7,825.4h.01M473.7,869.1h.01M474.2,849.8h.01M492.7,873.4h.01M500.2,870.0h.01M510.3,874.6h.01M505.3,870.4h.01M472.4,854.0h.01M491.3,878.2h.01M486.9,872.6h.01M457.1,844.8h.01M465.8,856.6h.01M491.5,871.6h.01M448.2,836.8h.01M480.5,854.8h.01M469.6,866.6h.01M472.3,849.1h.01M447.7,845.8h.01M497.6,868.0h.01M427.6,831.3h.01M464.9,847.1h.01M429.1,833.8h.01M428.9,823.9h.01M456.6,848.7h.01M462.5,850.6h.01M454.9,848.7h.01M483.8,876.8h.01M438.2,835.4h.01M451.8,849.6h.01M428.3,820.8h.01M490.3,867.5h.01M509.5,876.6h.01M433.7,829.0h.01M455.4,846.5h.01M499.2,866.5h.01M504.5,880.0h.01M434.7,840.9h.01M468.1,844.2h.01M483.3,858.4h.01M483.4,863.9h.01M480.9,872.5h.01M432.9,827.0h.01M461.6,841.1h.01M465.2,849.8h.01M436.6,840.8h.01M433.2,837.4h.01M459.8,847.0h.01M484.5,859.9h.01M459.8,843.5h.01M464.7,851.5h.01M512.9,875.5h.01M469.1,862.0h.01M507.4,875.1h.01M464.7,855.3h.01M465.5,853.9h.01M496.7,877.6h.01M480.5,859.8h.01M476.4,865.2h.01M439.9,840.8h.01M484.4,870.4h.01M443.0,836.1h.01M474.6,863.4h.01M429.8,830.2h.01M438.4,844.1h.01M503.1,869.1h.01M427.6,822.7h.01M473.6,858.7h.01M467.1,848.4h.01M463.5,845.9h.01M427.9,835.4h.01M466.7,852.4h.01M449.9,841.1h.01M488.6,868.6h.01M452.9,840.1h.01M474.2,852.0h.01M448.7,838.8h.01M448.3,842.2h.01M433.9,832.0h.01M477.4,868.0h.01M458.4,841.4h.01M470.2,858.6h.01M470.1,849.5h.01M487.3,866.5h.01M446.0,842.7h.01M469.0,855.6h.01M447.0,860.0h.01M451.0,858.0h.01M456.6,865.0h.01M462.4,871.4h.01M484.6,885.0h.01M405.0,847.6h.01M412.0,841.0h.01M406.6,841.4h.01M409.0,807.0h.01M413.0,811.6h.01M408.0,820.0h.01M412.0,820.0h.01M509.0,918.0h.01M509.0,921.0h.01M509.2,923.0h.01M511.4,935.4h.01M479.6,1029.0h.01M517.1,1015.4h.01M529.6,1016.3h.01M532.6,989.0h.01M533.8,990.6h.01M528.7,998.5h.01M522.7,993.3h.01M526.4,1000.7h.01M521.2,1008.9h.01M526.8,1010.0h.01M517.4,971.0h.01M531.7,1000.0h.01M529.8,996.2h.01M528.7,994.1h.01M520.5,980.5h.01M524.1,1018.8h.01M524.4,1016.1h.01M522.0,1007.4h.01M517.6,968.7h.01M519.4,993.0h.01M531.1,1007.3h.01M522.8,978.9h.01M520.6,972.0h.01M520.9,969.0h.01M517.9,974.6h.01M519.4,1013.4h.01M534.9,993.7h.01M519.6,983.1h.01M536.1,995.1h.01M527.1,1016.8h.01M521.7,995.4h.01M529.5,987.9h.01M523.7,975.2h.01M532.9,1007.7h.01M527.8,1007.9h.01M521.3,987.5h.01M515.7,1018.1h.01M527.4,990.5h.01M525.6,996.4h.01M524.5,988.8h.01M523.7,1013.8h.01M534.7,1005.9h.01M520.7,978.8h.01M529.8,990.2h.01M532.0,1003.9h.01M521.7,1016.8h.01M530.4,1005.1h.01M528.2,985.0h.01M529.8,1014.0h.01M525.0,1006.2h.01M524.4,982.9h.01M518.2,985.3h.01M518.9,976.5h.01M531.9,1001.7h.01M535.4,991.2h.01M533.7,999.9h.01M525.5,1008.2h.01M536.9,1004.7h.01M516.9,977.7h.01M533.4,1002.6h.01M527.2,986.4h.01M524.7,1003.6h.01M530.9,992.6h.01M521.9,985.2h.01M525.4,990.6h.01M518.2,1012.1h.01M534.4,995.9h.01M526.6,983.3h.01M533.1,997.0h.01M523.7,985.1h.01M522.0,975.7h.01M525.2,1012.1h.01M521.7,1013.1h.01M535.6,1002.6h.01M519.2,968.9h.01M531.5,1011.9h.01M519.1,978.2h.01M522.5,982.8h.01M525.3,986.7h.01M523.4,995.1h.01M522.5,972.7h.01M523.5,1005.6h.01M523.3,987.1h.01M526.7,998.8h.01M435.6,1046.4h.01M437.2,1045.2h.01M438.8,1044.0h.01M440.4,1042.8h.01M442.0,1041.6h.01M443.6,1040.6h.01M438.0,1045.6h.01M441.2,1041.2h.01M713.2,838.0h.01M728.8,851.8h.01M725.2,860.3h.01M721.7,857.7h.01M713.1,849.8h.01M741.8,847.8h.01M732.6,843.1h.01M703.1,847.1h.01M735.3,858.0h.01M730.5,843.5h.01M692.8,851.3h.01M690.8,850.3h.01M719.6,851.9h.01M734.5,848.9h.01M708.8,841.0h.01M721.8,848.4h.01M709.5,846.7h.01M709.4,849.0h.01M737.8,854.2h.01M709.2,858.8h.01M717.6,844.6h.01M738.9,851.8h.01M717.7,852.5h.01M701.7,845.1h.01M710.7,833.4h.01M745.6,842.2h.01M706.2,859.2h.01M706.0,847.0h.01M707.8,855.8h.01M705.5,856.9h.01M705.6,830.5h.01M697.7,848.0h.01M721.7,841.7h.01M736.2,840.2h.01M719.0,857.5h.01M726.2,852.1h.01M715.4,858.0h.01M719.2,855.2h.01M740.8,841.4h.01M723.8,850.5h.01M732.6,856.3h.01M726.8,841.4h.01M713.2,844.7h.01M694.5,855.4h.01M722.8,843.5h.01M708.5,853.0h.01M719.3,842.7h.01M719.7,845.6h.01M715.5,843.9h.01M708.2,842.9h.01M732.9,846.9h.01M700.7,860.3h.01M703.5,843.0h.01M741.9,843.7h.01M716.3,863.0h.01M725.5,843.7h.01M713.9,853.6h.01M707.1,835.1h.01M715.3,841.5h.01M713.4,855.3h.01M715.5,851.4h.01M727.2,844.5h.01M728.3,838.8h.01M734.4,841.5h.01M726.9,859.0h.01M730.1,854.1h.01M710.3,836.5h.01M700.2,854.0h.01M702.3,854.8h.01M731.2,849.4h.01M718.8,862.4h.01M702.7,859.9h.01M736.0,856.1h.01M722.8,854.3h.01M737.1,848.8h.01M711.1,840.0h.01M709.3,856.7h.01M715.0,861.6h.01M728.9,860.4h.01M717.6,839.6h.01M730.9,859.8h.01M702.2,852.4h.01M698.8,845.2h.01M739.6,843.9h.01M712.5,846.1h.01M733.9,852.1h.01M703.9,858.1h.01M721.8,860.0h.01M721.8,840.1h.01M716.5,849.4h.01M706.8,850.3h.01M716.7,859.7h.01M727.1,856.8h.01M708.5,861.7h.01M741.0,852.7h.01M711.8,858.0h.01M713.4,840.1h.01M726.8,849.5h.01M734.2,844.1h.01M697.4,844.2h.01M700.5,856.5h.01M705.7,854.7h.01M706.4,842.4h.01M728.5,842.5h.01M724.9,856.3h.01M723.3,859.0h.01M693.5,848.3h.01M699.2,849.2h.01M738.9,841.3h.01M694.5,850.9h.01M695.5,853.5h.01M724.2,840.8h.01M712.9,842.7h.01M706.6,852.9h.01M720.0,841.0h.01M729.6,856.9h.01M734.5,854.8h.01M720.2,847.7h.01M728.1,854.9h.01M736.5,851.4h.01M711.0,842.5h.01M703.5,851.3h.01M696.1,851.1h.01M725.9,847.5h.01M716.2,854.5h.01M704.3,848.7h.01M710.3,831.4h.01M706.9,862.6h.01M696.5,845.8h.01M740.2,848.3h.01M711.3,853.4h.01M718.1,848.9h.01M711.2,860.0h.01M723.8,846.8h.01M694.8,847.2h.01M722.8,852.0h.01M735.8,842.6h.01M697.0,855.5h.01M726.2,854.6h.01M731.7,845.3h.01M730.9,855.9h.01M733.1,850.1h.01M730.4,852.2h.01M743.4,842.1h.01M719.1,859.4h.01M715.0,847.6h.01M707.9,832.8h.01M739.7,854.9h.01M700.5,850.8h.01M699.9,858.8h.01M738.9,845.8h.01M732.0,851.4h.01M721.1,854.6h.01M729.8,848.4h.01M603.0,844.0h.01M608.0,841.0h.01M611.6,841.0h.01M608.0,847.0h.01M611.0,851.6h.01M606.0,845.0h.01M623.6,892.4h.01M613.4,910.4h.01M645.6,917.6h.01M651.0,913.6h.01M663.0,918.4h.01M682.4,926.0h.01M687.4,928.0h.01M655.0,979.4h.01M657.0,982.0h.01M660.0,984.4h.01M656.0,983.6h.01M745.0,801.0h.01M613.1,860.0h.01M612.4,858.6h.01M616.4,862.9h.01M614.8,863.9h.01M617.6,867.0h.01M618.4,870.0h.01M619.7,872.6h.01M622.0,875.9h.01M621.8,878.5h.01M621.6,879.5h.01M624.8,881.1h.01M624.8,883.9h.01M627.3,888.0h.01M626.7,888.9h.01M630.4,889.1h.01M631.5,892.5h.01M629.9,896.3h.01M635.2,904.2h.01M631.6,916.2h.01M632.1,924.0h.01M630.0,899.7h.01M638.1,906.4h.01M633.4,898.3h.01M632.6,896.0h.01M631.7,913.4h.01M633.3,906.9h.01M639.8,912.1h.01M624.2,920.7h.01M631.1,894.9h.01M634.1,910.2h.01M632.1,918.8h.01M631.5,903.8h.01M634.7,912.2h.01M629.4,925.6h.01M634.9,918.0h.01M637.2,903.7h.01M628.6,919.1h.01M636.5,919.5h.01M640.4,906.2h.01M630.3,923.6h.01M630.6,896.9h.01M634.6,921.4h.01M638.4,918.9h.01M638.6,916.3h.01M637.8,911.0h.01M625.5,925.5h.01M640.1,910.3h.01M636.5,921.5h.01M629.0,906.0h.01M626.3,922.0h.01M636.1,901.5h.01M637.5,909.2h.01M632.6,921.6h.01M636.1,916.8h.01M635.1,906.4h.01M633.2,902.3h.01M629.5,908.0h.01M629.3,903.4h.01M630.9,901.7h.01M636.2,911.2h.01M640.4,915.2h.01M714.6,942.9h.01M712.3,937.6h.01M728.9,940.5h.01M708.1,933.8h.01M723.9,943.3h.01M726.6,940.7h.01M710.4,940.4h.01M700.9,933.2h.01M718.2,938.9h.01M725.8,938.4h.01M722.0,946.2h.01M716.2,946.6h.01M705.6,933.5h.01M714.9,949.8h.01M717.8,934.2h.01M725.8,943.4h.01M714.4,941.1h.01M718.1,949.0h.01M710.6,937.2h.01M715.6,935.9h.01M723.2,939.2h.01M720.6,935.6h.01M713.7,939.4h.01M723.2,936.5h.01M711.8,944.0h.01M713.6,935.5h.01M706.3,937.7h.01M709.8,935.4h.01M716.3,941.3h.01M715.4,953.5h.01M718.1,943.8h.01M712.3,954.9h.01M712.0,950.3h.01M719.7,938.0h.01M724.6,944.7h.01M701.9,934.8h.01M711.9,945.7h.01M715.7,939.7h.01M722.7,941.1h.01M715.7,951.6h.01M710.6,933.1h.01M720.5,943.9h.01M704.0,933.1h.01M711.7,953.4h.01M714.0,933.2h.01M718.2,942.1h.01M719.8,947.8h.01M725.3,722.7h.01M729.1,718.3h.01M732.0,720.0h.01M731.7,722.7h.01M734.9,718.7h.01M736.7,717.3h.01M736.0,719.6h.01M749.6,792.0h.01M752.7,792.9h.01M751.3,794.7h.01M748.0,796.0h.01M746.0,798.0h.01M745.1,800.4h.01M808.7,780.7h.01M799.2,781.7h.01M801.5,789.1h.01M803.7,780.0h.01M803.3,792.1h.01M805.8,779.7h.01M807.3,791.3h.01M803.2,784.0h.01M810.2,796.3h.01M810.0,784.2h.01M794.0,786.2h.01M806.7,793.2h.01M806.0,795.2h.01M799.6,787.8h.01M804.9,790.6h.01M805.1,788.1h.01M797.4,787.5h.01M808.3,776.5h.01M809.0,794.6h.01M809.7,778.9h.01M811.9,777.4h.01M806.4,785.7h.01M804.6,793.7h.01M808.6,797.3h.01M795.6,783.7h.01M802.4,781.8h.01M791.7,784.6h.01M810.3,776.9h.01M799.4,786.1h.01M811.1,780.3h.01M286.0,392.0h.01" stroke="#d3d3d3" stroke-width="5.8" stroke-linecap="round" fill="none"/>
<path d="M360.0,738.7h.01M328.5,763.2h.01M303.7,827.5h.01M371.3,850.5h.01M337.9,820.9h.01M331.6,855.9h.01M304.8,807.5h.01M375.6,829.9h.01M320.7,803.9h.01M373.9,816.7h.01" stroke="#b69ce3" stroke-width="5.8" stroke-linecap="round" fill="none"/>
<path d="M690.8,131.4h.01M695.6,140.0h.01M698.0,146.6h.01M696.0,148.0h.01M695.0,151.0h.01M668.4,149.4h.01M675.6,161.6h.01M682.4,161.4h.01M693.4,162.4h.01M702.4,161.4h.01M725.6,156.0h.01M683.6,173.0h.01M733.0,176.0h.01M715.2,184.0h.01M712.6,190.4h.01M745.4,211.6h.01M587.4,545.0h.01M334.2,798.7h.01M354.0,726.2h.01M382.8,786.1h.01M329.2,741.8h.01M342.3,728.0h.01M343.1,751.4h.01M377.5,782.1h.01M340.9,717.9h.01M355.4,735.4h.01M368.2,758.8h.01M346.0,784.8h.01M349.9,754.9h.01M340.6,772.5h.01M360.4,790.4h.01M315.7,782.0h.01M321.4,734.7h.01M348.2,747.1h.01M343.0,798.5h.01M365.7,752.8h.01M333.9,751.1h.01M329.1,772.6h.01M342.8,753.9h.01M352.4,800.1h.01M314.6,792.1h.01M372.7,772.4h.01M354.1,754.4h.01M362.5,789.2h.01M321.4,739.6h.01M342.9,765.9h.01M375.0,778.9h.01M357.3,764.5h.01M346.4,796.4h.01M321.7,750.0h.01M338.4,781.3h.01M326.3,793.1h.01M374.2,799.8h.01M343.2,802.6h.01M371.7,798.8h.01M316.6,802.1h.01M317.9,793.6h.01M346.1,739.8h.01M333.7,776.9h.01M328.8,795.2h.01M349.6,782.5h.01M342.0,787.7h.01M348.3,725.7h.01M325.2,776.3h.01M336.9,734.0h.01M317.6,769.7h.01M351.8,740.2h.01M340.9,740.2h.01M339.9,761.3h.01M329.8,765.3h.01M322.8,741.7h.01M324.1,786.2h.01M356.4,795.5h.01M359.5,801.3h.01M339.9,770.3h.01M381.0,789.3h.01M321.8,773.5h.01M335.7,787.1h.01M349.6,741.1h.01M352.6,778.8h.01M362.7,756.6h.01M346.0,720.9h.01M363.1,762.3h.01M340.1,734.0h.01M357.8,768.1h.01M354.3,744.0h.01M348.8,728.0h.01M366.5,764.0h.01M341.4,721.7h.01M341.4,779.1h.01M329.1,746.9h.01M347.3,773.5h.01M320.2,796.2h.01M339.9,775.7h.01M343.1,768.5h.01M337.0,760.9h.01M334.2,742.3h.01M380.1,781.6h.01M362.4,738.5h.01M351.0,728.9h.01M345.6,802.4h.01M312.0,801.7h.01M318.3,771.9h.01M338.8,757.4h.01M376.6,768.7h.01M319.9,755.2h.01M313.9,795.9h.01M357.3,773.1h.01M338.8,743.4h.01M359.4,733.7h.01M380.4,845.6h.01M331.3,821.1h.01M357.8,817.7h.01M330.7,803.6h.01M335.8,837.5h.01M329.6,824.5h.01M374.2,811.9h.01M294.1,844.0h.01M345.3,838.8h.01M363.2,844.5h.01M372.7,833.3h.01M379.0,813.9h.01M377.9,801.2h.01M305.7,851.6h.01M302.7,857.0h.01M361.1,832.7h.01M293.4,832.6h.01M309.9,824.6h.01M296.6,838.3h.01M352.5,819.1h.01M328.9,865.1h.01M328.8,840.3h.01M343.0,849.6h.01M316.7,861.8h.01M335.3,861.1h.01M378.7,808.6h.01M348.4,839.9h.01M367.7,809.8h.01M351.5,863.2h.01M296.9,847.8h.01M326.5,826.9h.01M295.6,826.1h.01M367.2,805.0h.01M374.9,838.8h.01M316.9,815.1h.01M347.8,851.2h.01M345.7,807.8h.01M306.1,821.1h.01M330.6,845.3h.01M393.6,817.7h.01M296.5,816.4h.01M353.0,812.1h.01M326.1,860.0h.01M335.8,822.3h.01M381.5,800.6h.01M309.1,836.4h.01M333.7,841.0h.01M344.6,810.2h.01M368.5,828.5h.01M381.4,812.3h.01M351.6,833.0h.01M377.4,847.5h.01M313.3,850.5h.01M363.4,849.7h.01M341.1,821.2h.01M322.8,827.8h.01M298.4,833.0h.01M385.1,838.3h.01M311.2,829.9h.01M370.4,817.4h.01M318.9,827.3h.01M313.1,814.3h.01M389.5,815.9h.01M324.6,813.6h.01M306.4,840.3h.01M310.1,840.2h.01M338.9,803.4h.01M359.2,804.0h.01M308.2,843.8h.01M352.9,853.5h.01M310.5,814.2h.01M382.2,809.6h.01M345.3,847.8h.01M305.2,833.7h.01M315.0,837.9h.01M366.2,817.0h.01M311.5,859.7h.01M371.3,802.4h.01M291.9,836.4h.01M350.6,854.7h.01M308.2,848.6h.01M363.0,807.0h.01M328.5,834.3h.01M376.9,835.0h.01M380.1,834.4h.01M361.5,847.8h.01M390.4,809.3h.01M301.3,808.8h.01M331.4,826.4h.01M336.1,804.5h.01M339.6,814.6h.01M300.7,822.2h.01M384.1,834.6h.01M372.9,845.9h.01M314.3,808.8h.01M341.2,808.2h.01M306.3,826.0h.01M365.2,832.9h.01M308.2,829.1h.01M314.8,834.0h.01M357.1,820.1h.01M360.8,825.2h.01M307.1,815.1h.01M325.1,835.8h.01M383.9,846.2h.01M314.7,823.9h.01M376.4,823.4h.01M330.1,817.1h.01M324.5,853.3h.01M374.8,843.2h.01M294.0,823.9h.01M304.2,838.6h.01M325.1,825.1h.01M320.5,830.8h.01M287.9,826.7h.01M338.2,836.9h.01M343.6,826.3h.01M338.7,811.7h.01M351.9,803.8h.01M386.7,842.5h.01M375.8,807.8h.01M319.0,841.0h.01M338.7,858.4h.01M319.8,816.8h.01M357.3,852.7h.01M340.5,835.6h.01M303.6,805.0h.01M302.8,824.1h.01M335.0,854.8h.01M368.2,836.2h.01M387.7,805.3h.01M315.4,845.3h.01M298.1,843.6h.01M291.8,846.1h.01M315.9,831.3h.01M306.3,858.7h.01M324.3,866.8h.01M391.1,830.0h.01M381.4,823.2h.01M368.4,813.9h.01M381.9,828.8h.01M294.3,836.3h.01M300.9,812.3h.01M334.4,846.4h.01M291.3,840.7h.01M384.5,800.6h.01M334.0,865.2h.01M299.3,849.6h.01M326.1,847.5h.01M363.2,838.5h.01M340.8,847.3h.01M318.9,850.4h.01M358.2,841.3h.01M379.5,804.3h.01M369.2,848.7h.01M368.6,846.4h.01M306.7,804.7h.01M353.7,843.7h.01M323.5,811.1h.01M348.9,823.3h.01M343.6,834.6h.01M336.9,810.0h.01M318.4,806.1h.01M396.7,801.0h.01M399.5,827.8h.01M387.2,792.1h.01M411.4,813.5h.01M392.6,831.1h.01M400.6,818.6h.01M391.2,806.2h.01M400.4,801.9h.01M393.0,866.4h.01M382.0,853.0h.01M349.0,863.4h.01M322.4,865.4h.01M378.0,729.0h.01M375.0,731.0h.01M378.6,737.4h.01M384.6,737.6h.01M388.0,754.0h.01M393.0,767.0h.01M395.6,771.0h.01M399.6,780.4h.01M399.0,787.0h.01M428.6,822.0h.01M432.0,830.0h.01M438.6,832.0h.01M434.0,836.6h.01M438.0,841.0h.01M447.0,837.6h.01M454.8,850.0h.01M458.8,858.0h.01M479.0,868.4h.01M484.0,874.4h.01M489.6,881.0h.01M408.4,814.6h.01M403.4,821.6h.01M416.0,825.4h.01M412.4,829.4h.01M407.6,833.0h.01M417.6,834.0h.01M709.6,831.6h.01M701.0,852.4h.01M702.4,850.0h.01M628.0,899.4h.01M629.6,900.0h.01M634.4,900.6h.01M634.4,917.6h.01M648.6,915.6h.01M659.0,916.4h.01M626.4,924.0h.01M629.0,922.4h.01M708.0,936.0h.01M711.6,936.0h.01" stroke="#ae92e5" stroke-width="5.8" stroke-linecap="round" fill="none"/>
<path d="M359.5,781.4h.01M333.9,795.6h.01M352.5,797.5h.01M324.4,739.5h.01M323.6,763.6h.01M336.7,755.4h.01M324.1,805.9h.01M355.3,837.5h.01M346.0,864.6h.01M313.8,804.1h.01M291.8,828.1h.01M303.2,850.7h.01M377.5,838.3h.01M367.4,819.2h.01M326.7,811.5h.01M386.0,831.8h.01M364.7,827.4h.01M397.6,790.0h.01" stroke="#9d77ec" stroke-width="5.8" stroke-linecap="round" fill="none"/>
<path d="M698.0,131.2h.01M777.7,302.9h.01M345.1,776.5h.01M307.5,809.3h.01M360.3,815.8h.01M353.1,846.1h.01M382.5,815.3h.01M334.0,773.0h.01M309.0,804.4h.01M317.0,844.4h.01M339.0,840.4h.01M352.6,831.4h.01M384.4,829.4h.01M377.6,830.0h.01M371.4,837.4h.01M342.0,744.4h.01M340.0,746.0h.01M330.0,753.0h.01M336.0,731.6h.01M345.0,721.4h.01M368.0,805.0h.01M328.0,794.0h.01M320.0,815.0h.01M325.0,811.0h.01M346.0,787.4h.01M375.0,792.0h.01M356.4,747.0h.01M362.0,758.0h.01M343.4,766.6h.01M364.6,791.4h.01M398.0,775.0h.01M392.4,793.0h.01M425.6,831.0h.01M451.2,842.0h.01M419.0,839.4h.01M638.8,916.0h.01" stroke="#8e65f0" stroke-width="5.8" stroke-linecap="round" fill="none"/>
<path d="M359.0,733.0h.01M358.0,795.0h.01M348.0,815.0h.01M355.0,814.0h.01M387.0,748.4h.01M357.4,732.6h.01M317.4,769.4h.01M400.4,805.6h.01M311.4,807.6h.01M427.6,826.6h.01" stroke="#7c51f4" stroke-width="5.8" stroke-linecap="round" fill="none"/>
<path d="M378.4,817.0h.01" stroke="#673df8" stroke-width="5.8" stroke-linecap="round" fill="none"/>
<path d="M372.4,735.4h.01" stroke="#0000ff" stroke-width="5.8" stroke-linecap="round" fill="none"/>
<g stroke="#000" stroke-width="3" fill="none" stroke-linecap="butt">
<path d="M95.5,50.8V1121"/><path d="M94,1119.5H1117.5"/>
</g><g stroke="#000" stroke-width="3" fill="none">
<path d="M141.6,1121V1125"/>
<path d="M307.3,1121V1125"/>
<path d="M473.0,1121V1125"/>
<path d="M638.6,1121V1125"/>
<path d="M804.2,1121V1125"/>
<path d="M969.9,1121V1125"/>
<path d="M90,277.6H94"/>
<path d="M90,571.3H94"/>
<path d="M90,865.0H94"/>
</g>
<text class="ax" transform="translate(141.6,1148) scale(1,1.03)" text-anchor="middle">-15</text>
<text class="ax" transform="translate(307.3,1148) scale(1,1.03)" text-anchor="middle">-10</text>
<text class="ax" transform="translate(473.0,1148) scale(1,1.03)" text-anchor="middle">-5</text>
<text class="ax" transform="translate(638.6,1148) scale(1,1.03)" text-anchor="middle">0</text>
<text class="ax" transform="translate(804.2,1148) scale(1,1.03)" text-anchor="middle">5</text>
<text class="ax" transform="translate(969.9,1148) scale(1,1.03)" text-anchor="middle">10</text>
<text class="ax" transform="translate(87.5,287.9) scale(1,1.03)" text-anchor="end">10</text>
<text class="ax" transform="translate(87.5,581.6) scale(1,1.03)" text-anchor="end">0</text>
<text class="ax" transform="translate(87.5,875.3) scale(1,1.03)" text-anchor="end">-10</text>
<text class="ax" transform="translate(604,1181) scale(1.005,1.06)" text-anchor="middle">umapNC_1</text>
<text class="ax" transform="translate(34,586) rotate(-90) scale(1.027,1.08)" text-anchor="middle">umapNC_2</text>
<text x="606" y="37" text-anchor="middle" font-size="34.5" font-weight="bold">Kcna2</text>
<defs><linearGradient id="g" x1="0" y1="1" x2="0" y2="0">
<stop offset="0" stop-color="#d3d3d3"/><stop offset=".1" stop-color="#cac0d9"/><stop offset=".2" stop-color="#c1aede"/><stop offset=".3" stop-color="#b69ce3"/><stop offset=".4" stop-color="#aa89e7"/><stop offset=".5" stop-color="#9d77ec"/><stop offset=".6" stop-color="#8e65f0"/><stop offset=".7" stop-color="#7c51f4"/><stop offset=".8" stop-color="#673df8"/><stop offset=".9" stop-color="#4926fb"/><stop offset="1" stop-color="#0000ff"/></linearGradient></defs>
<rect x="1130" y="548" width="15.5" height="76" fill="url(#g)"/>
<g stroke="#fff" stroke-width="1" opacity=".8"><path d="M1130,565.3h3M1142.5,565.3h3M1130,584.6h3M1142.5,584.6h3M1130,604.2h3M1142.5,604.2h3"/></g>
<text class="lg" transform="translate(1154,574.6) scale(1,1.06)">1.5</text>
<text class="lg" transform="translate(1154,593.9) scale(1,1.06)">1.0</text>
<text class="lg" transform="translate(1154,614.0) scale(1,1.06)">0.5</text>
<text class="lg" transform="translate(1154,633.7) scale(1,1.06)">0.0</text>
</svg></body></html>
